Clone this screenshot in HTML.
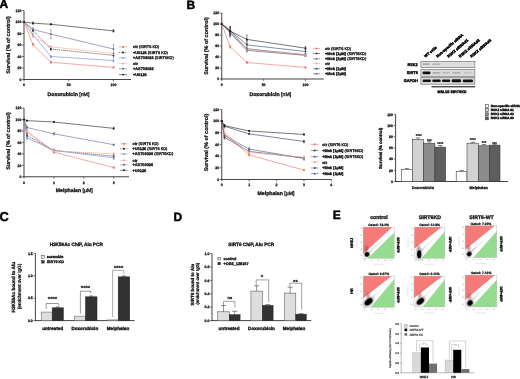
<!DOCTYPE html>
<html><head><meta charset="utf-8"><style>
html,body{margin:0;padding:0;background:#fff;}
svg{display:block;will-change:transform;filter:blur(0.3px);}
text{font-family:"Liberation Sans",sans-serif;}
</style></head><body>
<svg width="520" height="379" viewBox="0 0 520 379" text-rendering="geometricPrecision">
<rect width="520" height="379" fill="#fff"/>
<text x="-0.40" y="8.30" font-size="12.0" text-anchor="start" fill="#000" stroke="#000" stroke-width="0.45" font-weight="bold" >A</text>
<text x="186.40" y="8.50" font-size="12.0" text-anchor="start" fill="#000" stroke="#000" stroke-width="0.45" font-weight="bold" >B</text>
<text x="-0.40" y="220.60" font-size="12.8" text-anchor="start" fill="#000" stroke="#000" stroke-width="0.45" font-weight="bold" >C</text>
<text x="173.60" y="221.10" font-size="12.0" text-anchor="start" fill="#000" stroke="#000" stroke-width="0.45" font-weight="bold" >D</text>
<text x="332.70" y="218.60" font-size="12.0" text-anchor="start" fill="#000" stroke="#000" stroke-width="0.45" font-weight="bold" >E</text>
<line x1="24.00" y1="80.00" x2="24.00" y2="10.50" stroke="#3a3a3a" stroke-width="0.95" />
<line x1="23.50" y1="79.50" x2="131.00" y2="79.50" stroke="#3a3a3a" stroke-width="0.95" />
<line x1="22.10" y1="79.50" x2="24.00" y2="79.50" stroke="#3a3a3a" stroke-width="0.7" />
<text x="21.40" y="80.75" font-size="3.5" text-anchor="end" fill="#151515" stroke="#151515" stroke-width="0.28" font-weight="bold" >0</text>
<line x1="22.10" y1="68.00" x2="24.00" y2="68.00" stroke="#3a3a3a" stroke-width="0.7" />
<text x="21.40" y="69.25" font-size="3.5" text-anchor="end" fill="#151515" stroke="#151515" stroke-width="0.28" font-weight="bold" >20</text>
<line x1="22.10" y1="56.50" x2="24.00" y2="56.50" stroke="#3a3a3a" stroke-width="0.7" />
<text x="21.40" y="57.75" font-size="3.5" text-anchor="end" fill="#151515" stroke="#151515" stroke-width="0.28" font-weight="bold" >40</text>
<line x1="22.10" y1="45.00" x2="24.00" y2="45.00" stroke="#3a3a3a" stroke-width="0.7" />
<text x="21.40" y="46.25" font-size="3.5" text-anchor="end" fill="#151515" stroke="#151515" stroke-width="0.28" font-weight="bold" >60</text>
<line x1="22.10" y1="33.50" x2="24.00" y2="33.50" stroke="#3a3a3a" stroke-width="0.7" />
<text x="21.40" y="34.75" font-size="3.5" text-anchor="end" fill="#151515" stroke="#151515" stroke-width="0.28" font-weight="bold" >80</text>
<line x1="22.10" y1="22.00" x2="24.00" y2="22.00" stroke="#3a3a3a" stroke-width="0.7" />
<text x="21.40" y="23.25" font-size="3.5" text-anchor="end" fill="#151515" stroke="#151515" stroke-width="0.28" font-weight="bold" >100</text>
<line x1="22.10" y1="10.50" x2="24.00" y2="10.50" stroke="#3a3a3a" stroke-width="0.7" />
<text x="21.40" y="11.75" font-size="3.5" text-anchor="end" fill="#151515" stroke="#151515" stroke-width="0.28" font-weight="bold" >120</text>
<line x1="24.00" y1="79.50" x2="24.00" y2="81.40" stroke="#3a3a3a" stroke-width="0.7" />
<text x="24.00" y="86.40" font-size="3.5" text-anchor="middle" fill="#151515" stroke="#151515" stroke-width="0.28" font-weight="bold" >0</text>
<line x1="68.75" y1="79.50" x2="68.75" y2="81.40" stroke="#3a3a3a" stroke-width="0.7" />
<text x="68.75" y="86.40" font-size="3.5" text-anchor="middle" fill="#151515" stroke="#151515" stroke-width="0.28" font-weight="bold" >50</text>
<line x1="113.50" y1="79.50" x2="113.50" y2="81.40" stroke="#3a3a3a" stroke-width="0.7" />
<text x="113.50" y="86.40" font-size="3.5" text-anchor="middle" fill="#151515" stroke="#151515" stroke-width="0.28" font-weight="bold" >100</text>
<text x="9.90" y="45.00" font-size="5.45" text-anchor="middle" fill="#111" stroke="#111" stroke-width="0.22" font-weight="bold" transform="rotate(-90 9.9 45.0)" >Survival (% of control)</text>
<text x="68.50" y="96.30" font-size="5.2" text-anchor="middle" fill="#111" stroke="#111" stroke-width="0.3" ><tspan font-weight="bold">Doxorubicin </tspan>[nM]</text>
<path d="M24.00,22.00 L32.95,44.43 L50.85,62.25 L113.50,67.42" fill="none" stroke="#e8706c" stroke-width="0.6"/>
<rect x="23.10" y="21.10" width="1.80" height="1.80" fill="#e8706c" />
<line x1="32.95" y1="43.28" x2="32.95" y2="45.58" stroke="#e8706c" stroke-width="0.5" />
<line x1="32.15" y1="43.28" x2="33.75" y2="43.28" stroke="#e8706c" stroke-width="0.5" />
<line x1="32.15" y1="45.58" x2="33.75" y2="45.58" stroke="#e8706c" stroke-width="0.5" />
<rect x="32.05" y="43.53" width="1.80" height="1.80" fill="#e8706c" />
<line x1="50.85" y1="61.10" x2="50.85" y2="63.40" stroke="#e8706c" stroke-width="0.5" />
<line x1="50.05" y1="61.10" x2="51.65" y2="61.10" stroke="#e8706c" stroke-width="0.5" />
<line x1="50.05" y1="63.40" x2="51.65" y2="63.40" stroke="#e8706c" stroke-width="0.5" />
<rect x="49.95" y="61.35" width="1.80" height="1.80" fill="#e8706c" />
<line x1="113.50" y1="66.85" x2="113.50" y2="68.00" stroke="#e8706c" stroke-width="0.5" />
<line x1="112.70" y1="66.85" x2="114.30" y2="66.85" stroke="#e8706c" stroke-width="0.5" />
<line x1="112.70" y1="68.00" x2="114.30" y2="68.00" stroke="#e8706c" stroke-width="0.5" />
<rect x="112.60" y="66.52" width="1.80" height="1.80" fill="#e8706c" />
<path d="M24.00,22.00 L32.95,30.34 L50.85,49.03 L113.50,55.35" fill="none" stroke="#1a1a1a" stroke-width="0.6" stroke-dasharray="1.2,0.8"/>
<circle cx="24.00" cy="22.00" r="0.95" fill="#1a1a1a"/>
<line x1="32.95" y1="29.19" x2="32.95" y2="31.49" stroke="#1a1a1a" stroke-width="0.5" />
<line x1="32.15" y1="29.19" x2="33.75" y2="29.19" stroke="#1a1a1a" stroke-width="0.5" />
<line x1="32.15" y1="31.49" x2="33.75" y2="31.49" stroke="#1a1a1a" stroke-width="0.5" />
<circle cx="32.95" cy="30.34" r="0.95" fill="#1a1a1a"/>
<line x1="50.85" y1="47.88" x2="50.85" y2="50.18" stroke="#1a1a1a" stroke-width="0.5" />
<line x1="50.05" y1="47.88" x2="51.65" y2="47.88" stroke="#1a1a1a" stroke-width="0.5" />
<line x1="50.05" y1="50.18" x2="51.65" y2="50.18" stroke="#1a1a1a" stroke-width="0.5" />
<circle cx="50.85" cy="49.03" r="0.95" fill="#1a1a1a"/>
<line x1="113.50" y1="53.62" x2="113.50" y2="57.08" stroke="#1a1a1a" stroke-width="0.5" />
<line x1="112.70" y1="53.62" x2="114.30" y2="53.62" stroke="#1a1a1a" stroke-width="0.5" />
<line x1="112.70" y1="57.08" x2="114.30" y2="57.08" stroke="#1a1a1a" stroke-width="0.5" />
<circle cx="113.50" cy="55.35" r="0.95" fill="#1a1a1a"/>
<path d="M24.00,22.00 L32.95,34.65 L50.85,56.50 L113.50,60.53" fill="none" stroke="#7084d4" stroke-width="0.6"/>
<path d="M22.90,22.80 L25.10,22.80 L24.00,20.90 Z" fill="#7084d4"/>
<line x1="32.95" y1="32.93" x2="32.95" y2="36.38" stroke="#7084d4" stroke-width="0.5" />
<line x1="32.15" y1="32.93" x2="33.75" y2="32.93" stroke="#7084d4" stroke-width="0.5" />
<line x1="32.15" y1="36.38" x2="33.75" y2="36.38" stroke="#7084d4" stroke-width="0.5" />
<path d="M31.85,35.45 L34.05,35.45 L32.95,33.55 Z" fill="#7084d4"/>
<line x1="50.85" y1="55.35" x2="50.85" y2="57.65" stroke="#7084d4" stroke-width="0.5" />
<line x1="50.05" y1="55.35" x2="51.65" y2="55.35" stroke="#7084d4" stroke-width="0.5" />
<line x1="50.05" y1="57.65" x2="51.65" y2="57.65" stroke="#7084d4" stroke-width="0.5" />
<path d="M49.75,57.30 L51.95,57.30 L50.85,55.40 Z" fill="#7084d4"/>
<line x1="113.50" y1="58.80" x2="113.50" y2="62.25" stroke="#7084d4" stroke-width="0.5" />
<line x1="112.70" y1="58.80" x2="114.30" y2="58.80" stroke="#7084d4" stroke-width="0.5" />
<line x1="112.70" y1="62.25" x2="114.30" y2="62.25" stroke="#7084d4" stroke-width="0.5" />
<path d="M112.40,61.33 L114.60,61.33 L113.50,59.43 Z" fill="#7084d4"/>
<path d="M24.00,22.00 L32.95,36.38 L50.85,46.73 L113.50,53.62" fill="none" stroke="#f2ab98" stroke-width="0.6"/>
<rect x="23.10" y="21.10" width="1.80" height="1.80" fill="#f2ab98" />
<line x1="32.95" y1="35.23" x2="32.95" y2="37.52" stroke="#f2ab98" stroke-width="0.5" />
<line x1="32.15" y1="35.23" x2="33.75" y2="35.23" stroke="#f2ab98" stroke-width="0.5" />
<line x1="32.15" y1="37.52" x2="33.75" y2="37.52" stroke="#f2ab98" stroke-width="0.5" />
<rect x="32.05" y="35.48" width="1.80" height="1.80" fill="#f2ab98" />
<line x1="50.85" y1="45.58" x2="50.85" y2="47.88" stroke="#f2ab98" stroke-width="0.5" />
<line x1="50.05" y1="45.58" x2="51.65" y2="45.58" stroke="#f2ab98" stroke-width="0.5" />
<line x1="50.05" y1="47.88" x2="51.65" y2="47.88" stroke="#f2ab98" stroke-width="0.5" />
<rect x="49.95" y="45.83" width="1.80" height="1.80" fill="#f2ab98" />
<line x1="113.50" y1="52.48" x2="113.50" y2="54.77" stroke="#f2ab98" stroke-width="0.5" />
<line x1="112.70" y1="52.48" x2="114.30" y2="52.48" stroke="#f2ab98" stroke-width="0.5" />
<line x1="112.70" y1="54.77" x2="114.30" y2="54.77" stroke="#f2ab98" stroke-width="0.5" />
<rect x="112.60" y="52.73" width="1.80" height="1.80" fill="#f2ab98" />
<path d="M24.00,22.00 L32.95,29.48 L50.85,34.08 L113.50,49.03" fill="none" stroke="#626a88" stroke-width="0.6"/>
<circle cx="24.00" cy="22.00" r="0.95" fill="#626a88"/>
<line x1="32.95" y1="27.75" x2="32.95" y2="31.20" stroke="#626a88" stroke-width="0.5" />
<line x1="32.15" y1="27.75" x2="33.75" y2="27.75" stroke="#626a88" stroke-width="0.5" />
<line x1="32.15" y1="31.20" x2="33.75" y2="31.20" stroke="#626a88" stroke-width="0.5" />
<circle cx="32.95" cy="29.48" r="0.95" fill="#626a88"/>
<line x1="50.85" y1="29.48" x2="50.85" y2="38.68" stroke="#626a88" stroke-width="0.5" />
<line x1="50.05" y1="29.48" x2="51.65" y2="29.48" stroke="#626a88" stroke-width="0.5" />
<line x1="50.05" y1="38.68" x2="51.65" y2="38.68" stroke="#626a88" stroke-width="0.5" />
<circle cx="50.85" cy="34.08" r="0.95" fill="#626a88"/>
<line x1="113.50" y1="44.43" x2="113.50" y2="53.63" stroke="#626a88" stroke-width="0.5" />
<line x1="112.70" y1="44.43" x2="114.30" y2="44.43" stroke="#626a88" stroke-width="0.5" />
<line x1="112.70" y1="53.63" x2="114.30" y2="53.63" stroke="#626a88" stroke-width="0.5" />
<circle cx="113.50" cy="49.03" r="0.95" fill="#626a88"/>
<path d="M24.00,22.00 L32.95,23.15 L50.85,24.30 L113.50,30.91" fill="none" stroke="#1a1a1a" stroke-width="0.6"/>
<circle cx="24.00" cy="22.00" r="0.95" fill="#1a1a1a"/>
<line x1="32.95" y1="22.00" x2="32.95" y2="24.30" stroke="#1a1a1a" stroke-width="0.5" />
<line x1="32.15" y1="22.00" x2="33.75" y2="22.00" stroke="#1a1a1a" stroke-width="0.5" />
<line x1="32.15" y1="24.30" x2="33.75" y2="24.30" stroke="#1a1a1a" stroke-width="0.5" />
<circle cx="32.95" cy="23.15" r="0.95" fill="#1a1a1a"/>
<line x1="50.85" y1="23.73" x2="50.85" y2="24.88" stroke="#1a1a1a" stroke-width="0.5" />
<line x1="50.05" y1="23.73" x2="51.65" y2="23.73" stroke="#1a1a1a" stroke-width="0.5" />
<line x1="50.05" y1="24.88" x2="51.65" y2="24.88" stroke="#1a1a1a" stroke-width="0.5" />
<circle cx="50.85" cy="24.30" r="0.95" fill="#1a1a1a"/>
<line x1="113.50" y1="29.76" x2="113.50" y2="32.06" stroke="#1a1a1a" stroke-width="0.5" />
<line x1="112.70" y1="29.76" x2="114.30" y2="29.76" stroke="#1a1a1a" stroke-width="0.5" />
<line x1="112.70" y1="32.06" x2="114.30" y2="32.06" stroke="#1a1a1a" stroke-width="0.5" />
<circle cx="113.50" cy="30.91" r="0.95" fill="#1a1a1a"/>
<line x1="119" y1="46.90" x2="127" y2="46.90" stroke="#e8706c" stroke-width="0.55"/>
<rect x="122.10" y="46.00" width="1.80" height="1.80" fill="#e8706c" />
<text x="133.00" y="48.30" font-size="3.9" fill="#000" stroke="#000" stroke-width="0.26" ><tspan font-weight="bold">ctr </tspan>(SIRT6 KD)</text>
<line x1="119" y1="52.50" x2="127" y2="52.50" stroke="#1a1a1a" stroke-width="0.55" stroke-dasharray="1.2,0.8"/>
<circle cx="123.00" cy="52.50" r="0.95" fill="#1a1a1a"/>
<text x="133.00" y="53.90" font-size="3.9" fill="#000" stroke="#000" stroke-width="0.26" ><tspan font-weight="bold">+U0126 </tspan>(SIRT6 KD)</text>
<line x1="119" y1="57.80" x2="127" y2="57.80" stroke="#7084d4" stroke-width="0.55"/>
<path d="M121.90,58.60 L124.10,58.60 L123.00,56.70 Z" fill="#7084d4"/>
<text x="133.00" y="59.20" font-size="3.9" fill="#000" stroke="#000" stroke-width="0.26" ><tspan font-weight="bold">+AS703026 </tspan>(SIRT6KD)</text>
<line x1="119" y1="63.50" x2="127" y2="63.50" stroke="#f2ab98" stroke-width="0.55"/>
<rect x="122.10" y="62.60" width="1.80" height="1.80" fill="#f2ab98" />
<text x="133.00" y="64.90" font-size="3.9" text-anchor="start" fill="#000" stroke="#000" stroke-width="0.26" font-weight="bold" >ctr</text>
<line x1="119" y1="68.80" x2="127" y2="68.80" stroke="#626a88" stroke-width="0.55"/>
<circle cx="123.00" cy="68.80" r="0.95" fill="#626a88"/>
<text x="133.00" y="70.20" font-size="3.9" text-anchor="start" fill="#000" stroke="#000" stroke-width="0.26" font-weight="bold" >+AS703026</text>
<line x1="119" y1="74.60" x2="127" y2="74.60" stroke="#1a1a1a" stroke-width="0.55"/>
<circle cx="123.00" cy="74.60" r="0.95" fill="#1a1a1a"/>
<text x="133.00" y="76.00" font-size="3.9" text-anchor="start" fill="#000" stroke="#000" stroke-width="0.26" font-weight="bold" >+U0126</text>
<line x1="24.00" y1="177.25" x2="24.00" y2="108.05" stroke="#3a3a3a" stroke-width="0.95" />
<line x1="23.50" y1="176.75" x2="129.00" y2="176.75" stroke="#3a3a3a" stroke-width="0.95" />
<line x1="22.10" y1="176.75" x2="24.00" y2="176.75" stroke="#3a3a3a" stroke-width="0.7" />
<text x="21.40" y="178.00" font-size="3.5" text-anchor="end" fill="#151515" stroke="#151515" stroke-width="0.28" font-weight="bold" >0</text>
<line x1="22.10" y1="165.30" x2="24.00" y2="165.30" stroke="#3a3a3a" stroke-width="0.7" />
<text x="21.40" y="166.55" font-size="3.5" text-anchor="end" fill="#151515" stroke="#151515" stroke-width="0.28" font-weight="bold" >20</text>
<line x1="22.10" y1="153.85" x2="24.00" y2="153.85" stroke="#3a3a3a" stroke-width="0.7" />
<text x="21.40" y="155.10" font-size="3.5" text-anchor="end" fill="#151515" stroke="#151515" stroke-width="0.28" font-weight="bold" >40</text>
<line x1="22.10" y1="142.40" x2="24.00" y2="142.40" stroke="#3a3a3a" stroke-width="0.7" />
<text x="21.40" y="143.65" font-size="3.5" text-anchor="end" fill="#151515" stroke="#151515" stroke-width="0.28" font-weight="bold" >60</text>
<line x1="22.10" y1="130.95" x2="24.00" y2="130.95" stroke="#3a3a3a" stroke-width="0.7" />
<text x="21.40" y="132.20" font-size="3.5" text-anchor="end" fill="#151515" stroke="#151515" stroke-width="0.28" font-weight="bold" >80</text>
<line x1="22.10" y1="119.50" x2="24.00" y2="119.50" stroke="#3a3a3a" stroke-width="0.7" />
<text x="21.40" y="120.75" font-size="3.5" text-anchor="end" fill="#151515" stroke="#151515" stroke-width="0.28" font-weight="bold" >100</text>
<line x1="22.10" y1="108.05" x2="24.00" y2="108.05" stroke="#3a3a3a" stroke-width="0.7" />
<text x="21.40" y="109.30" font-size="3.5" text-anchor="end" fill="#151515" stroke="#151515" stroke-width="0.28" font-weight="bold" >120</text>
<line x1="24.00" y1="176.75" x2="24.00" y2="178.65" stroke="#3a3a3a" stroke-width="0.7" />
<text x="24.00" y="183.65" font-size="3.5" text-anchor="middle" fill="#151515" stroke="#151515" stroke-width="0.28" font-weight="bold" >0</text>
<line x1="53.90" y1="176.75" x2="53.90" y2="178.65" stroke="#3a3a3a" stroke-width="0.7" />
<text x="53.90" y="183.65" font-size="3.5" text-anchor="middle" fill="#151515" stroke="#151515" stroke-width="0.28" font-weight="bold" >1</text>
<line x1="83.80" y1="176.75" x2="83.80" y2="178.65" stroke="#3a3a3a" stroke-width="0.7" />
<text x="83.80" y="183.65" font-size="3.5" text-anchor="middle" fill="#151515" stroke="#151515" stroke-width="0.28" font-weight="bold" >2</text>
<line x1="113.70" y1="176.75" x2="113.70" y2="178.65" stroke="#3a3a3a" stroke-width="0.7" />
<text x="113.70" y="183.65" font-size="3.5" text-anchor="middle" fill="#151515" stroke="#151515" stroke-width="0.28" font-weight="bold" >3</text>
<text x="9.90" y="141.00" font-size="5.45" text-anchor="middle" fill="#111" stroke="#111" stroke-width="0.22" font-weight="bold" transform="rotate(-90 9.9 141.0)" >Survival (% of control)</text>
<text x="74.30" y="192.40" font-size="5.2" text-anchor="middle" fill="#111" stroke="#111" stroke-width="0.3" ><tspan font-weight="bold">Melphalan </tspan>[µM]</text>
<path d="M24.00,119.50 L26.99,132.09 L53.90,152.13 L113.70,167.59" fill="none" stroke="#e8706c" stroke-width="0.6"/>
<rect x="23.10" y="118.60" width="1.80" height="1.80" fill="#e8706c" />
<line x1="26.99" y1="130.38" x2="26.99" y2="133.81" stroke="#e8706c" stroke-width="0.5" />
<line x1="26.19" y1="130.38" x2="27.79" y2="130.38" stroke="#e8706c" stroke-width="0.5" />
<line x1="26.19" y1="133.81" x2="27.79" y2="133.81" stroke="#e8706c" stroke-width="0.5" />
<rect x="26.09" y="131.19" width="1.80" height="1.80" fill="#e8706c" />
<line x1="53.90" y1="150.99" x2="53.90" y2="153.28" stroke="#e8706c" stroke-width="0.5" />
<line x1="53.10" y1="150.99" x2="54.70" y2="150.99" stroke="#e8706c" stroke-width="0.5" />
<line x1="53.10" y1="153.28" x2="54.70" y2="153.28" stroke="#e8706c" stroke-width="0.5" />
<rect x="53.00" y="151.23" width="1.80" height="1.80" fill="#e8706c" />
<line x1="113.70" y1="167.02" x2="113.70" y2="168.16" stroke="#e8706c" stroke-width="0.5" />
<line x1="112.90" y1="167.02" x2="114.50" y2="167.02" stroke="#e8706c" stroke-width="0.5" />
<line x1="112.90" y1="168.16" x2="114.50" y2="168.16" stroke="#e8706c" stroke-width="0.5" />
<rect x="112.80" y="166.69" width="1.80" height="1.80" fill="#e8706c" />
<path d="M24.00,119.50 L26.99,135.53 L53.90,150.41 L113.70,156.14" fill="none" stroke="#1a1a1a" stroke-width="0.6" stroke-dasharray="1.2,0.8"/>
<circle cx="24.00" cy="119.50" r="0.95" fill="#1a1a1a"/>
<line x1="26.99" y1="133.81" x2="26.99" y2="137.25" stroke="#1a1a1a" stroke-width="0.5" />
<line x1="26.19" y1="133.81" x2="27.79" y2="133.81" stroke="#1a1a1a" stroke-width="0.5" />
<line x1="26.19" y1="137.25" x2="27.79" y2="137.25" stroke="#1a1a1a" stroke-width="0.5" />
<circle cx="26.99" cy="135.53" r="0.95" fill="#1a1a1a"/>
<line x1="53.90" y1="149.27" x2="53.90" y2="151.56" stroke="#1a1a1a" stroke-width="0.5" />
<line x1="53.10" y1="149.27" x2="54.70" y2="149.27" stroke="#1a1a1a" stroke-width="0.5" />
<line x1="53.10" y1="151.56" x2="54.70" y2="151.56" stroke="#1a1a1a" stroke-width="0.5" />
<circle cx="53.90" cy="150.41" r="0.95" fill="#1a1a1a"/>
<line x1="113.70" y1="154.42" x2="113.70" y2="157.86" stroke="#1a1a1a" stroke-width="0.5" />
<line x1="112.90" y1="154.42" x2="114.50" y2="154.42" stroke="#1a1a1a" stroke-width="0.5" />
<line x1="112.90" y1="157.86" x2="114.50" y2="157.86" stroke="#1a1a1a" stroke-width="0.5" />
<circle cx="113.70" cy="156.14" r="0.95" fill="#1a1a1a"/>
<path d="M24.00,119.50 L26.99,137.82 L53.90,150.41 L113.70,157.86" fill="none" stroke="#7084d4" stroke-width="0.6"/>
<path d="M22.90,120.30 L25.10,120.30 L24.00,118.40 Z" fill="#7084d4"/>
<line x1="26.99" y1="136.10" x2="26.99" y2="139.54" stroke="#7084d4" stroke-width="0.5" />
<line x1="26.19" y1="136.10" x2="27.79" y2="136.10" stroke="#7084d4" stroke-width="0.5" />
<line x1="26.19" y1="139.54" x2="27.79" y2="139.54" stroke="#7084d4" stroke-width="0.5" />
<path d="M25.89,138.62 L28.09,138.62 L26.99,136.72 Z" fill="#7084d4"/>
<line x1="53.90" y1="149.27" x2="53.90" y2="151.56" stroke="#7084d4" stroke-width="0.5" />
<line x1="53.10" y1="149.27" x2="54.70" y2="149.27" stroke="#7084d4" stroke-width="0.5" />
<line x1="53.10" y1="151.56" x2="54.70" y2="151.56" stroke="#7084d4" stroke-width="0.5" />
<path d="M52.80,151.22 L55.00,151.22 L53.90,149.31 Z" fill="#7084d4"/>
<line x1="113.70" y1="156.14" x2="113.70" y2="159.57" stroke="#7084d4" stroke-width="0.5" />
<line x1="112.90" y1="156.14" x2="114.50" y2="156.14" stroke="#7084d4" stroke-width="0.5" />
<line x1="112.90" y1="159.57" x2="114.50" y2="159.57" stroke="#7084d4" stroke-width="0.5" />
<path d="M112.60,158.66 L114.80,158.66 L113.70,156.76 Z" fill="#7084d4"/>
<path d="M24.00,119.50 L26.99,130.95 L53.90,150.99 L113.70,153.85" fill="none" stroke="#f2ab98" stroke-width="0.6"/>
<rect x="23.10" y="118.60" width="1.80" height="1.80" fill="#f2ab98" />
<line x1="26.99" y1="129.23" x2="26.99" y2="132.67" stroke="#f2ab98" stroke-width="0.5" />
<line x1="26.19" y1="129.23" x2="27.79" y2="129.23" stroke="#f2ab98" stroke-width="0.5" />
<line x1="26.19" y1="132.67" x2="27.79" y2="132.67" stroke="#f2ab98" stroke-width="0.5" />
<rect x="26.09" y="130.05" width="1.80" height="1.80" fill="#f2ab98" />
<line x1="53.90" y1="149.84" x2="53.90" y2="152.13" stroke="#f2ab98" stroke-width="0.5" />
<line x1="53.10" y1="149.84" x2="54.70" y2="149.84" stroke="#f2ab98" stroke-width="0.5" />
<line x1="53.10" y1="152.13" x2="54.70" y2="152.13" stroke="#f2ab98" stroke-width="0.5" />
<rect x="53.00" y="150.09" width="1.80" height="1.80" fill="#f2ab98" />
<line x1="113.70" y1="152.70" x2="113.70" y2="155.00" stroke="#f2ab98" stroke-width="0.5" />
<line x1="112.90" y1="152.70" x2="114.50" y2="152.70" stroke="#f2ab98" stroke-width="0.5" />
<line x1="112.90" y1="155.00" x2="114.50" y2="155.00" stroke="#f2ab98" stroke-width="0.5" />
<rect x="112.80" y="152.95" width="1.80" height="1.80" fill="#f2ab98" />
<path d="M24.00,119.50 L26.99,127.52 L53.90,133.81 L113.70,144.69" fill="none" stroke="#626a88" stroke-width="0.6"/>
<circle cx="24.00" cy="119.50" r="0.95" fill="#626a88"/>
<line x1="26.99" y1="125.80" x2="26.99" y2="129.23" stroke="#626a88" stroke-width="0.5" />
<line x1="26.19" y1="125.80" x2="27.79" y2="125.80" stroke="#626a88" stroke-width="0.5" />
<line x1="26.19" y1="129.23" x2="27.79" y2="129.23" stroke="#626a88" stroke-width="0.5" />
<circle cx="26.99" cy="127.52" r="0.95" fill="#626a88"/>
<line x1="53.90" y1="132.67" x2="53.90" y2="134.96" stroke="#626a88" stroke-width="0.5" />
<line x1="53.10" y1="132.67" x2="54.70" y2="132.67" stroke="#626a88" stroke-width="0.5" />
<line x1="53.10" y1="134.96" x2="54.70" y2="134.96" stroke="#626a88" stroke-width="0.5" />
<circle cx="53.90" cy="133.81" r="0.95" fill="#626a88"/>
<line x1="113.70" y1="144.12" x2="113.70" y2="145.26" stroke="#626a88" stroke-width="0.5" />
<line x1="112.90" y1="144.12" x2="114.50" y2="144.12" stroke="#626a88" stroke-width="0.5" />
<line x1="112.90" y1="145.26" x2="114.50" y2="145.26" stroke="#626a88" stroke-width="0.5" />
<circle cx="113.70" cy="144.69" r="0.95" fill="#626a88"/>
<path d="M24.00,119.50 L26.99,120.64 L53.90,122.02 L113.70,128.37" fill="none" stroke="#1a1a1a" stroke-width="0.6"/>
<circle cx="24.00" cy="119.50" r="0.95" fill="#1a1a1a"/>
<line x1="26.99" y1="120.07" x2="26.99" y2="121.22" stroke="#1a1a1a" stroke-width="0.5" />
<line x1="26.19" y1="120.07" x2="27.79" y2="120.07" stroke="#1a1a1a" stroke-width="0.5" />
<line x1="26.19" y1="121.22" x2="27.79" y2="121.22" stroke="#1a1a1a" stroke-width="0.5" />
<circle cx="26.99" cy="120.64" r="0.95" fill="#1a1a1a"/>
<line x1="53.90" y1="121.45" x2="53.90" y2="122.59" stroke="#1a1a1a" stroke-width="0.5" />
<line x1="53.10" y1="121.45" x2="54.70" y2="121.45" stroke="#1a1a1a" stroke-width="0.5" />
<line x1="53.10" y1="122.59" x2="54.70" y2="122.59" stroke="#1a1a1a" stroke-width="0.5" />
<circle cx="53.90" cy="122.02" r="0.95" fill="#1a1a1a"/>
<line x1="113.70" y1="127.23" x2="113.70" y2="129.52" stroke="#1a1a1a" stroke-width="0.5" />
<line x1="112.90" y1="127.23" x2="114.50" y2="127.23" stroke="#1a1a1a" stroke-width="0.5" />
<line x1="112.90" y1="129.52" x2="114.50" y2="129.52" stroke="#1a1a1a" stroke-width="0.5" />
<circle cx="113.70" cy="128.37" r="0.95" fill="#1a1a1a"/>
<line x1="120.2" y1="143.80" x2="127.5" y2="143.80" stroke="#e8706c" stroke-width="0.55"/>
<rect x="122.95" y="142.90" width="1.80" height="1.80" fill="#e8706c" />
<text x="132.50" y="145.20" font-size="3.9" fill="#000" stroke="#000" stroke-width="0.26" ><tspan font-weight="bold">ctr </tspan>(SIRT6 KD)</text>
<line x1="120.2" y1="148.80" x2="127.5" y2="148.80" stroke="#1a1a1a" stroke-width="0.55" stroke-dasharray="1.2,0.8"/>
<circle cx="123.85" cy="148.80" r="0.95" fill="#1a1a1a"/>
<text x="132.50" y="150.20" font-size="3.9" fill="#000" stroke="#000" stroke-width="0.26" ><tspan font-weight="bold">+U0126 </tspan>(SIRT6 KD)</text>
<line x1="120.2" y1="153.90" x2="127.5" y2="153.90" stroke="#7084d4" stroke-width="0.55"/>
<path d="M122.75,154.70 L124.95,154.70 L123.85,152.80 Z" fill="#7084d4"/>
<text x="132.50" y="155.30" font-size="3.9" fill="#000" stroke="#000" stroke-width="0.26" ><tspan font-weight="bold">+AS703026 </tspan>(SIRT6KD)</text>
<line x1="120.2" y1="160.40" x2="127.5" y2="160.40" stroke="#f2ab98" stroke-width="0.55"/>
<rect x="122.95" y="159.50" width="1.80" height="1.80" fill="#f2ab98" />
<text x="132.50" y="161.80" font-size="3.9" text-anchor="start" fill="#000" stroke="#000" stroke-width="0.26" font-weight="bold" >ctr</text>
<line x1="120.2" y1="164.80" x2="127.5" y2="164.80" stroke="#626a88" stroke-width="0.55"/>
<circle cx="123.85" cy="164.80" r="0.95" fill="#626a88"/>
<text x="132.50" y="166.20" font-size="3.9" text-anchor="start" fill="#000" stroke="#000" stroke-width="0.26" font-weight="bold" >+AS703026</text>
<line x1="120.2" y1="170.30" x2="127.5" y2="170.30" stroke="#1a1a1a" stroke-width="0.55"/>
<circle cx="123.85" cy="170.30" r="0.95" fill="#1a1a1a"/>
<text x="132.50" y="171.70" font-size="3.9" text-anchor="start" fill="#000" stroke="#000" stroke-width="0.26" font-weight="bold" >+U0126</text>
<line x1="221.75" y1="79.50" x2="221.75" y2="13.00" stroke="#3a3a3a" stroke-width="0.95" />
<line x1="221.25" y1="79.00" x2="323.75" y2="79.00" stroke="#3a3a3a" stroke-width="0.95" />
<line x1="219.85" y1="79.00" x2="221.75" y2="79.00" stroke="#3a3a3a" stroke-width="0.7" />
<text x="219.15" y="80.25" font-size="3.5" text-anchor="end" fill="#151515" stroke="#151515" stroke-width="0.28" font-weight="bold" >0</text>
<line x1="219.85" y1="68.00" x2="221.75" y2="68.00" stroke="#3a3a3a" stroke-width="0.7" />
<text x="219.15" y="69.25" font-size="3.5" text-anchor="end" fill="#151515" stroke="#151515" stroke-width="0.28" font-weight="bold" >20</text>
<line x1="219.85" y1="57.00" x2="221.75" y2="57.00" stroke="#3a3a3a" stroke-width="0.7" />
<text x="219.15" y="58.25" font-size="3.5" text-anchor="end" fill="#151515" stroke="#151515" stroke-width="0.28" font-weight="bold" >40</text>
<line x1="219.85" y1="46.00" x2="221.75" y2="46.00" stroke="#3a3a3a" stroke-width="0.7" />
<text x="219.15" y="47.25" font-size="3.5" text-anchor="end" fill="#151515" stroke="#151515" stroke-width="0.28" font-weight="bold" >60</text>
<line x1="219.85" y1="35.00" x2="221.75" y2="35.00" stroke="#3a3a3a" stroke-width="0.7" />
<text x="219.15" y="36.25" font-size="3.5" text-anchor="end" fill="#151515" stroke="#151515" stroke-width="0.28" font-weight="bold" >80</text>
<line x1="219.85" y1="24.00" x2="221.75" y2="24.00" stroke="#3a3a3a" stroke-width="0.7" />
<text x="219.15" y="25.25" font-size="3.5" text-anchor="end" fill="#151515" stroke="#151515" stroke-width="0.28" font-weight="bold" >100</text>
<line x1="219.85" y1="13.00" x2="221.75" y2="13.00" stroke="#3a3a3a" stroke-width="0.7" />
<text x="219.15" y="14.25" font-size="3.5" text-anchor="end" fill="#151515" stroke="#151515" stroke-width="0.28" font-weight="bold" >120</text>
<line x1="221.75" y1="79.00" x2="221.75" y2="80.90" stroke="#3a3a3a" stroke-width="0.7" />
<text x="221.75" y="85.90" font-size="3.5" text-anchor="middle" fill="#151515" stroke="#151515" stroke-width="0.28" font-weight="bold" >0</text>
<line x1="263.62" y1="79.00" x2="263.62" y2="80.90" stroke="#3a3a3a" stroke-width="0.7" />
<text x="263.62" y="85.90" font-size="3.5" text-anchor="middle" fill="#151515" stroke="#151515" stroke-width="0.28" font-weight="bold" >50</text>
<line x1="305.50" y1="79.00" x2="305.50" y2="80.90" stroke="#3a3a3a" stroke-width="0.7" />
<text x="305.50" y="85.90" font-size="3.5" text-anchor="middle" fill="#151515" stroke="#151515" stroke-width="0.28" font-weight="bold" >100</text>
<text x="208.10" y="46.00" font-size="5.45" text-anchor="middle" fill="#111" stroke="#111" stroke-width="0.22" font-weight="bold" transform="rotate(-90 208.1 46.0)" >Survival (% of control)</text>
<text x="270.30" y="96.20" font-size="5.2" text-anchor="middle" fill="#111" stroke="#111" stroke-width="0.3" ><tspan font-weight="bold">Doxorubicin </tspan>[nM]</text>
<path d="M221.75,24.00 L230.12,46.82 L246.88,62.50 L305.50,67.45" fill="none" stroke="#e8706c" stroke-width="0.6"/>
<rect x="220.85" y="23.10" width="1.80" height="1.80" fill="#e8706c" />
<line x1="230.12" y1="45.72" x2="230.12" y2="47.92" stroke="#e8706c" stroke-width="0.5" />
<line x1="229.32" y1="45.72" x2="230.93" y2="45.72" stroke="#e8706c" stroke-width="0.5" />
<line x1="229.32" y1="47.92" x2="230.93" y2="47.92" stroke="#e8706c" stroke-width="0.5" />
<rect x="229.22" y="45.92" width="1.80" height="1.80" fill="#e8706c" />
<line x1="246.88" y1="61.40" x2="246.88" y2="63.60" stroke="#e8706c" stroke-width="0.5" />
<line x1="246.07" y1="61.40" x2="247.68" y2="61.40" stroke="#e8706c" stroke-width="0.5" />
<line x1="246.07" y1="63.60" x2="247.68" y2="63.60" stroke="#e8706c" stroke-width="0.5" />
<rect x="245.97" y="61.60" width="1.80" height="1.80" fill="#e8706c" />
<line x1="305.50" y1="66.90" x2="305.50" y2="68.00" stroke="#e8706c" stroke-width="0.5" />
<line x1="304.70" y1="66.90" x2="306.30" y2="66.90" stroke="#e8706c" stroke-width="0.5" />
<line x1="304.70" y1="68.00" x2="306.30" y2="68.00" stroke="#e8706c" stroke-width="0.5" />
<rect x="304.60" y="66.55" width="1.80" height="1.80" fill="#e8706c" />
<path d="M221.75,24.00 L230.12,31.70 L246.88,48.75 L305.50,54.80" fill="none" stroke="#3a3a3a" stroke-width="0.6"/>
<circle cx="221.75" cy="24.00" r="0.95" fill="#3a3a3a"/>
<line x1="230.12" y1="27.30" x2="230.12" y2="36.10" stroke="#3a3a3a" stroke-width="0.5" />
<line x1="229.32" y1="27.30" x2="230.93" y2="27.30" stroke="#3a3a3a" stroke-width="0.5" />
<line x1="229.32" y1="36.10" x2="230.93" y2="36.10" stroke="#3a3a3a" stroke-width="0.5" />
<circle cx="230.12" cy="31.70" r="0.95" fill="#3a3a3a"/>
<line x1="246.88" y1="47.10" x2="246.88" y2="50.40" stroke="#3a3a3a" stroke-width="0.5" />
<line x1="246.07" y1="47.10" x2="247.68" y2="47.10" stroke="#3a3a3a" stroke-width="0.5" />
<line x1="246.07" y1="50.40" x2="247.68" y2="50.40" stroke="#3a3a3a" stroke-width="0.5" />
<circle cx="246.88" cy="48.75" r="0.95" fill="#3a3a3a"/>
<line x1="305.50" y1="53.70" x2="305.50" y2="55.90" stroke="#3a3a3a" stroke-width="0.5" />
<line x1="304.70" y1="53.70" x2="306.30" y2="53.70" stroke="#3a3a3a" stroke-width="0.5" />
<line x1="304.70" y1="55.90" x2="306.30" y2="55.90" stroke="#3a3a3a" stroke-width="0.5" />
<circle cx="305.50" cy="54.80" r="0.95" fill="#3a3a3a"/>
<path d="M221.75,24.00 L230.12,32.80 L246.88,50.40 L305.50,55.35" fill="none" stroke="#3d4a7a" stroke-width="0.6"/>
<path d="M220.65,24.80 L222.85,24.80 L221.75,22.90 Z" fill="#3d4a7a"/>
<line x1="230.12" y1="28.40" x2="230.12" y2="37.20" stroke="#3d4a7a" stroke-width="0.5" />
<line x1="229.32" y1="28.40" x2="230.93" y2="28.40" stroke="#3d4a7a" stroke-width="0.5" />
<line x1="229.32" y1="37.20" x2="230.93" y2="37.20" stroke="#3d4a7a" stroke-width="0.5" />
<path d="M229.03,33.60 L231.22,33.60 L230.12,31.70 Z" fill="#3d4a7a"/>
<line x1="246.88" y1="48.75" x2="246.88" y2="52.05" stroke="#3d4a7a" stroke-width="0.5" />
<line x1="246.07" y1="48.75" x2="247.68" y2="48.75" stroke="#3d4a7a" stroke-width="0.5" />
<line x1="246.07" y1="52.05" x2="247.68" y2="52.05" stroke="#3d4a7a" stroke-width="0.5" />
<path d="M245.78,51.20 L247.97,51.20 L246.88,49.30 Z" fill="#3d4a7a"/>
<line x1="305.50" y1="54.25" x2="305.50" y2="56.45" stroke="#3d4a7a" stroke-width="0.5" />
<line x1="304.70" y1="54.25" x2="306.30" y2="54.25" stroke="#3d4a7a" stroke-width="0.5" />
<line x1="304.70" y1="56.45" x2="306.30" y2="56.45" stroke="#3d4a7a" stroke-width="0.5" />
<path d="M304.40,56.15 L306.60,56.15 L305.50,54.25 Z" fill="#3d4a7a"/>
<path d="M221.75,24.00 L230.12,29.50 L246.88,49.30 L305.50,54.80" fill="none" stroke="#f2ab98" stroke-width="0.6"/>
<rect x="220.85" y="23.10" width="1.80" height="1.80" fill="#f2ab98" />
<line x1="230.12" y1="27.85" x2="230.12" y2="31.15" stroke="#f2ab98" stroke-width="0.5" />
<line x1="229.32" y1="27.85" x2="230.93" y2="27.85" stroke="#f2ab98" stroke-width="0.5" />
<line x1="229.32" y1="31.15" x2="230.93" y2="31.15" stroke="#f2ab98" stroke-width="0.5" />
<rect x="229.22" y="28.60" width="1.80" height="1.80" fill="#f2ab98" />
<line x1="246.88" y1="47.65" x2="246.88" y2="50.95" stroke="#f2ab98" stroke-width="0.5" />
<line x1="246.07" y1="47.65" x2="247.68" y2="47.65" stroke="#f2ab98" stroke-width="0.5" />
<line x1="246.07" y1="50.95" x2="247.68" y2="50.95" stroke="#f2ab98" stroke-width="0.5" />
<rect x="245.97" y="48.40" width="1.80" height="1.80" fill="#f2ab98" />
<line x1="305.50" y1="53.70" x2="305.50" y2="55.90" stroke="#f2ab98" stroke-width="0.5" />
<line x1="304.70" y1="53.70" x2="306.30" y2="53.70" stroke="#f2ab98" stroke-width="0.5" />
<line x1="304.70" y1="55.90" x2="306.30" y2="55.90" stroke="#f2ab98" stroke-width="0.5" />
<rect x="304.60" y="53.90" width="1.80" height="1.80" fill="#f2ab98" />
<path d="M221.75,24.00 L230.12,30.60 L246.88,44.90 L305.50,51.50" fill="none" stroke="#2c4a6a" stroke-width="0.6"/>
<circle cx="221.75" cy="24.00" r="0.95" fill="#2c4a6a"/>
<line x1="230.12" y1="26.20" x2="230.12" y2="35.00" stroke="#2c4a6a" stroke-width="0.5" />
<line x1="229.32" y1="26.20" x2="230.93" y2="26.20" stroke="#2c4a6a" stroke-width="0.5" />
<line x1="229.32" y1="35.00" x2="230.93" y2="35.00" stroke="#2c4a6a" stroke-width="0.5" />
<circle cx="230.12" cy="30.60" r="0.95" fill="#2c4a6a"/>
<line x1="246.88" y1="40.50" x2="246.88" y2="49.30" stroke="#2c4a6a" stroke-width="0.5" />
<line x1="246.07" y1="40.50" x2="247.68" y2="40.50" stroke="#2c4a6a" stroke-width="0.5" />
<line x1="246.07" y1="49.30" x2="247.68" y2="49.30" stroke="#2c4a6a" stroke-width="0.5" />
<circle cx="246.88" cy="44.90" r="0.95" fill="#2c4a6a"/>
<line x1="305.50" y1="49.30" x2="305.50" y2="53.70" stroke="#2c4a6a" stroke-width="0.5" />
<line x1="304.70" y1="49.30" x2="306.30" y2="49.30" stroke="#2c4a6a" stroke-width="0.5" />
<line x1="304.70" y1="53.70" x2="306.30" y2="53.70" stroke="#2c4a6a" stroke-width="0.5" />
<circle cx="305.50" cy="51.50" r="0.95" fill="#2c4a6a"/>
<path d="M221.75,24.00 L230.12,31.15 L246.88,39.40 L305.50,48.20" fill="none" stroke="#1a1a1a" stroke-width="0.6"/>
<circle cx="221.75" cy="24.00" r="0.95" fill="#1a1a1a"/>
<line x1="230.12" y1="26.75" x2="230.12" y2="35.55" stroke="#1a1a1a" stroke-width="0.5" />
<line x1="229.32" y1="26.75" x2="230.93" y2="26.75" stroke="#1a1a1a" stroke-width="0.5" />
<line x1="229.32" y1="35.55" x2="230.93" y2="35.55" stroke="#1a1a1a" stroke-width="0.5" />
<circle cx="230.12" cy="31.15" r="0.95" fill="#1a1a1a"/>
<line x1="246.88" y1="35.00" x2="246.88" y2="43.80" stroke="#1a1a1a" stroke-width="0.5" />
<line x1="246.07" y1="35.00" x2="247.68" y2="35.00" stroke="#1a1a1a" stroke-width="0.5" />
<line x1="246.07" y1="43.80" x2="247.68" y2="43.80" stroke="#1a1a1a" stroke-width="0.5" />
<circle cx="246.88" cy="39.40" r="0.95" fill="#1a1a1a"/>
<line x1="305.50" y1="46.55" x2="305.50" y2="49.85" stroke="#1a1a1a" stroke-width="0.5" />
<line x1="304.70" y1="46.55" x2="306.30" y2="46.55" stroke="#1a1a1a" stroke-width="0.5" />
<line x1="304.70" y1="49.85" x2="306.30" y2="49.85" stroke="#1a1a1a" stroke-width="0.5" />
<circle cx="305.50" cy="48.20" r="0.95" fill="#1a1a1a"/>
<line x1="313" y1="48.50" x2="320" y2="48.50" stroke="#e8706c" stroke-width="0.55"/>
<rect x="315.60" y="47.60" width="1.80" height="1.80" fill="#e8706c" />
<text x="325.00" y="49.90" font-size="3.9" fill="#000" stroke="#000" stroke-width="0.26" ><tspan font-weight="bold">ctr </tspan>(SIRT6 KD)</text>
<line x1="313" y1="53.50" x2="320" y2="53.50" stroke="#3a3a3a" stroke-width="0.55"/>
<circle cx="316.50" cy="53.50" r="0.95" fill="#3a3a3a"/>
<text x="325.00" y="54.90" font-size="3.9" fill="#000" stroke="#000" stroke-width="0.26" ><tspan font-weight="bold">+Mek [1µM] </tspan>(SIRT6KD)</text>
<line x1="313" y1="58.75" x2="320" y2="58.75" stroke="#3d4a7a" stroke-width="0.55"/>
<path d="M315.40,59.55 L317.60,59.55 L316.50,57.65 Z" fill="#3d4a7a"/>
<text x="325.00" y="60.15" font-size="3.9" fill="#000" stroke="#000" stroke-width="0.26" ><tspan font-weight="bold">+Mek [3µM] </tspan>(SIRT6KD)</text>
<line x1="313" y1="63.50" x2="320" y2="63.50" stroke="#f2ab98" stroke-width="0.55"/>
<rect x="315.60" y="62.60" width="1.80" height="1.80" fill="#f2ab98" />
<text x="325.00" y="64.90" font-size="3.9" text-anchor="start" fill="#000" stroke="#000" stroke-width="0.26" font-weight="bold" >ctr</text>
<line x1="313" y1="68.75" x2="320" y2="68.75" stroke="#2c4a6a" stroke-width="0.55"/>
<circle cx="316.50" cy="68.75" r="0.95" fill="#2c4a6a"/>
<text x="325.00" y="70.15" font-size="3.9" text-anchor="start" fill="#000" stroke="#000" stroke-width="0.26" font-weight="bold" >+Mek [1µM]</text>
<line x1="313" y1="73.75" x2="320" y2="73.75" stroke="#5a3c8c" stroke-width="0.55"/>
<path d="M315.40,74.55 L317.60,74.55 L316.50,72.65 Z" fill="#5a3c8c"/>
<text x="325.00" y="75.15" font-size="3.9" text-anchor="start" fill="#000" stroke="#000" stroke-width="0.26" font-weight="bold" >+Mek [3µM]</text>
<line x1="221.75" y1="180.00" x2="221.75" y2="109.30" stroke="#3a3a3a" stroke-width="0.95" />
<line x1="221.25" y1="179.50" x2="331.40" y2="179.50" stroke="#3a3a3a" stroke-width="0.95" />
<line x1="219.85" y1="179.50" x2="221.75" y2="179.50" stroke="#3a3a3a" stroke-width="0.7" />
<text x="219.15" y="180.75" font-size="3.5" text-anchor="end" fill="#151515" stroke="#151515" stroke-width="0.28" font-weight="bold" >0</text>
<line x1="219.85" y1="167.80" x2="221.75" y2="167.80" stroke="#3a3a3a" stroke-width="0.7" />
<text x="219.15" y="169.05" font-size="3.5" text-anchor="end" fill="#151515" stroke="#151515" stroke-width="0.28" font-weight="bold" >20</text>
<line x1="219.85" y1="156.10" x2="221.75" y2="156.10" stroke="#3a3a3a" stroke-width="0.7" />
<text x="219.15" y="157.35" font-size="3.5" text-anchor="end" fill="#151515" stroke="#151515" stroke-width="0.28" font-weight="bold" >40</text>
<line x1="219.85" y1="144.40" x2="221.75" y2="144.40" stroke="#3a3a3a" stroke-width="0.7" />
<text x="219.15" y="145.65" font-size="3.5" text-anchor="end" fill="#151515" stroke="#151515" stroke-width="0.28" font-weight="bold" >60</text>
<line x1="219.85" y1="132.70" x2="221.75" y2="132.70" stroke="#3a3a3a" stroke-width="0.7" />
<text x="219.15" y="133.95" font-size="3.5" text-anchor="end" fill="#151515" stroke="#151515" stroke-width="0.28" font-weight="bold" >80</text>
<line x1="219.85" y1="121.00" x2="221.75" y2="121.00" stroke="#3a3a3a" stroke-width="0.7" />
<text x="219.15" y="122.25" font-size="3.5" text-anchor="end" fill="#151515" stroke="#151515" stroke-width="0.28" font-weight="bold" >100</text>
<line x1="219.85" y1="109.30" x2="221.75" y2="109.30" stroke="#3a3a3a" stroke-width="0.7" />
<text x="219.15" y="110.55" font-size="3.5" text-anchor="end" fill="#151515" stroke="#151515" stroke-width="0.28" font-weight="bold" >120</text>
<line x1="221.75" y1="179.50" x2="221.75" y2="181.40" stroke="#3a3a3a" stroke-width="0.7" />
<text x="221.75" y="186.40" font-size="3.5" text-anchor="middle" fill="#151515" stroke="#151515" stroke-width="0.28" font-weight="bold" >0</text>
<line x1="249.15" y1="179.50" x2="249.15" y2="181.40" stroke="#3a3a3a" stroke-width="0.7" />
<text x="249.15" y="186.40" font-size="3.5" text-anchor="middle" fill="#151515" stroke="#151515" stroke-width="0.28" font-weight="bold" >1</text>
<line x1="276.55" y1="179.50" x2="276.55" y2="181.40" stroke="#3a3a3a" stroke-width="0.7" />
<text x="276.55" y="186.40" font-size="3.5" text-anchor="middle" fill="#151515" stroke="#151515" stroke-width="0.28" font-weight="bold" >2</text>
<line x1="303.95" y1="179.50" x2="303.95" y2="181.40" stroke="#3a3a3a" stroke-width="0.7" />
<text x="303.95" y="186.40" font-size="3.5" text-anchor="middle" fill="#151515" stroke="#151515" stroke-width="0.28" font-weight="bold" >3</text>
<line x1="331.35" y1="179.50" x2="331.35" y2="181.40" stroke="#3a3a3a" stroke-width="0.7" />
<text x="331.35" y="186.40" font-size="3.5" text-anchor="middle" fill="#151515" stroke="#151515" stroke-width="0.28" font-weight="bold" >4</text>
<text x="208.00" y="142.50" font-size="5.45" text-anchor="middle" fill="#111" stroke="#111" stroke-width="0.22" font-weight="bold" transform="rotate(-90 208.0 142.5)" >Survival (% of control)</text>
<text x="276.00" y="194.60" font-size="5.2" text-anchor="middle" fill="#111" stroke="#111" stroke-width="0.3" ><tspan font-weight="bold">Melphalan </tspan>[µM]</text>
<path d="M221.75,121.00 L224.49,133.87 L249.15,154.93 L303.95,170.14" fill="none" stroke="#e8706c" stroke-width="0.6"/>
<rect x="220.85" y="120.10" width="1.80" height="1.80" fill="#e8706c" />
<line x1="224.49" y1="132.12" x2="224.49" y2="135.62" stroke="#e8706c" stroke-width="0.5" />
<line x1="223.69" y1="132.12" x2="225.29" y2="132.12" stroke="#e8706c" stroke-width="0.5" />
<line x1="223.69" y1="135.62" x2="225.29" y2="135.62" stroke="#e8706c" stroke-width="0.5" />
<rect x="223.59" y="132.97" width="1.80" height="1.80" fill="#e8706c" />
<line x1="249.15" y1="153.76" x2="249.15" y2="156.10" stroke="#e8706c" stroke-width="0.5" />
<line x1="248.35" y1="153.76" x2="249.95" y2="153.76" stroke="#e8706c" stroke-width="0.5" />
<line x1="248.35" y1="156.10" x2="249.95" y2="156.10" stroke="#e8706c" stroke-width="0.5" />
<rect x="248.25" y="154.03" width="1.80" height="1.80" fill="#e8706c" />
<line x1="303.95" y1="169.55" x2="303.95" y2="170.72" stroke="#e8706c" stroke-width="0.5" />
<line x1="303.15" y1="169.55" x2="304.75" y2="169.55" stroke="#e8706c" stroke-width="0.5" />
<line x1="303.15" y1="170.72" x2="304.75" y2="170.72" stroke="#e8706c" stroke-width="0.5" />
<rect x="303.05" y="169.24" width="1.80" height="1.80" fill="#e8706c" />
<path d="M221.75,121.00 L224.49,137.38 L249.15,151.42 L303.95,157.85" fill="none" stroke="#3a3a3a" stroke-width="0.6"/>
<circle cx="221.75" cy="121.00" r="0.95" fill="#3a3a3a"/>
<line x1="224.49" y1="135.62" x2="224.49" y2="139.13" stroke="#3a3a3a" stroke-width="0.5" />
<line x1="223.69" y1="135.62" x2="225.29" y2="135.62" stroke="#3a3a3a" stroke-width="0.5" />
<line x1="223.69" y1="139.13" x2="225.29" y2="139.13" stroke="#3a3a3a" stroke-width="0.5" />
<circle cx="224.49" cy="137.38" r="0.95" fill="#3a3a3a"/>
<line x1="249.15" y1="149.67" x2="249.15" y2="153.18" stroke="#3a3a3a" stroke-width="0.5" />
<line x1="248.35" y1="149.67" x2="249.95" y2="149.67" stroke="#3a3a3a" stroke-width="0.5" />
<line x1="248.35" y1="153.18" x2="249.95" y2="153.18" stroke="#3a3a3a" stroke-width="0.5" />
<circle cx="249.15" cy="151.42" r="0.95" fill="#3a3a3a"/>
<line x1="303.95" y1="156.69" x2="303.95" y2="159.02" stroke="#3a3a3a" stroke-width="0.5" />
<line x1="303.15" y1="156.69" x2="304.75" y2="156.69" stroke="#3a3a3a" stroke-width="0.5" />
<line x1="303.15" y1="159.02" x2="304.75" y2="159.02" stroke="#3a3a3a" stroke-width="0.5" />
<circle cx="303.95" cy="157.85" r="0.95" fill="#3a3a3a"/>
<path d="M221.75,121.00 L224.49,135.62 L249.15,149.08 L303.95,158.44" fill="none" stroke="#3d4a7a" stroke-width="0.6"/>
<path d="M220.65,121.80 L222.85,121.80 L221.75,119.90 Z" fill="#3d4a7a"/>
<line x1="224.49" y1="133.87" x2="224.49" y2="137.38" stroke="#3d4a7a" stroke-width="0.5" />
<line x1="223.69" y1="133.87" x2="225.29" y2="133.87" stroke="#3d4a7a" stroke-width="0.5" />
<line x1="223.69" y1="137.38" x2="225.29" y2="137.38" stroke="#3d4a7a" stroke-width="0.5" />
<path d="M223.39,136.43 L225.59,136.43 L224.49,134.53 Z" fill="#3d4a7a"/>
<line x1="249.15" y1="147.33" x2="249.15" y2="150.84" stroke="#3d4a7a" stroke-width="0.5" />
<line x1="248.35" y1="147.33" x2="249.95" y2="147.33" stroke="#3d4a7a" stroke-width="0.5" />
<line x1="248.35" y1="150.84" x2="249.95" y2="150.84" stroke="#3d4a7a" stroke-width="0.5" />
<path d="M248.05,149.88 L250.25,149.88 L249.15,147.98 Z" fill="#3d4a7a"/>
<line x1="303.95" y1="156.69" x2="303.95" y2="160.19" stroke="#3d4a7a" stroke-width="0.5" />
<line x1="303.15" y1="156.69" x2="304.75" y2="156.69" stroke="#3d4a7a" stroke-width="0.5" />
<line x1="303.15" y1="160.19" x2="304.75" y2="160.19" stroke="#3d4a7a" stroke-width="0.5" />
<path d="M302.85,159.24 L305.05,159.24 L303.95,157.34 Z" fill="#3d4a7a"/>
<path d="M221.75,121.00 L224.49,132.70 L249.15,152.59 L303.95,157.27" fill="none" stroke="#f2ab98" stroke-width="0.6"/>
<rect x="220.85" y="120.10" width="1.80" height="1.80" fill="#f2ab98" />
<line x1="224.49" y1="130.94" x2="224.49" y2="134.45" stroke="#f2ab98" stroke-width="0.5" />
<line x1="223.69" y1="130.94" x2="225.29" y2="130.94" stroke="#f2ab98" stroke-width="0.5" />
<line x1="223.69" y1="134.45" x2="225.29" y2="134.45" stroke="#f2ab98" stroke-width="0.5" />
<rect x="223.59" y="131.80" width="1.80" height="1.80" fill="#f2ab98" />
<line x1="249.15" y1="151.42" x2="249.15" y2="153.76" stroke="#f2ab98" stroke-width="0.5" />
<line x1="248.35" y1="151.42" x2="249.95" y2="151.42" stroke="#f2ab98" stroke-width="0.5" />
<line x1="248.35" y1="153.76" x2="249.95" y2="153.76" stroke="#f2ab98" stroke-width="0.5" />
<rect x="248.25" y="151.69" width="1.80" height="1.80" fill="#f2ab98" />
<line x1="303.95" y1="156.10" x2="303.95" y2="158.44" stroke="#f2ab98" stroke-width="0.5" />
<line x1="303.15" y1="156.10" x2="304.75" y2="156.10" stroke="#f2ab98" stroke-width="0.5" />
<line x1="303.15" y1="158.44" x2="304.75" y2="158.44" stroke="#f2ab98" stroke-width="0.5" />
<rect x="303.05" y="156.37" width="1.80" height="1.80" fill="#f2ab98" />
<path d="M221.75,121.00 L224.49,126.27 L249.15,133.87 L303.95,141.47" fill="none" stroke="#2a2f60" stroke-width="0.6"/>
<circle cx="221.75" cy="121.00" r="0.95" fill="#2a2f60"/>
<line x1="224.49" y1="124.51" x2="224.49" y2="128.02" stroke="#2a2f60" stroke-width="0.5" />
<line x1="223.69" y1="124.51" x2="225.29" y2="124.51" stroke="#2a2f60" stroke-width="0.5" />
<line x1="223.69" y1="128.02" x2="225.29" y2="128.02" stroke="#2a2f60" stroke-width="0.5" />
<circle cx="224.49" cy="126.27" r="0.95" fill="#2a2f60"/>
<line x1="249.15" y1="133.28" x2="249.15" y2="134.46" stroke="#2a2f60" stroke-width="0.5" />
<line x1="248.35" y1="133.28" x2="249.95" y2="133.28" stroke="#2a2f60" stroke-width="0.5" />
<line x1="248.35" y1="134.46" x2="249.95" y2="134.46" stroke="#2a2f60" stroke-width="0.5" />
<circle cx="249.15" cy="133.87" r="0.95" fill="#2a2f60"/>
<line x1="303.95" y1="140.31" x2="303.95" y2="142.64" stroke="#2a2f60" stroke-width="0.5" />
<line x1="303.15" y1="140.31" x2="304.75" y2="140.31" stroke="#2a2f60" stroke-width="0.5" />
<line x1="303.15" y1="142.64" x2="304.75" y2="142.64" stroke="#2a2f60" stroke-width="0.5" />
<circle cx="303.95" cy="141.47" r="0.95" fill="#2a2f60"/>
<path d="M221.75,121.00 L224.49,125.68 L249.15,130.94 L303.95,134.46" fill="none" stroke="#1a1a1a" stroke-width="0.6"/>
<circle cx="221.75" cy="121.00" r="0.95" fill="#1a1a1a"/>
<line x1="224.49" y1="124.51" x2="224.49" y2="126.85" stroke="#1a1a1a" stroke-width="0.5" />
<line x1="223.69" y1="124.51" x2="225.29" y2="124.51" stroke="#1a1a1a" stroke-width="0.5" />
<line x1="223.69" y1="126.85" x2="225.29" y2="126.85" stroke="#1a1a1a" stroke-width="0.5" />
<circle cx="224.49" cy="125.68" r="0.95" fill="#1a1a1a"/>
<line x1="249.15" y1="130.36" x2="249.15" y2="131.53" stroke="#1a1a1a" stroke-width="0.5" />
<line x1="248.35" y1="130.36" x2="249.95" y2="130.36" stroke="#1a1a1a" stroke-width="0.5" />
<line x1="248.35" y1="131.53" x2="249.95" y2="131.53" stroke="#1a1a1a" stroke-width="0.5" />
<circle cx="249.15" cy="130.94" r="0.95" fill="#1a1a1a"/>
<line x1="303.95" y1="133.87" x2="303.95" y2="135.04" stroke="#1a1a1a" stroke-width="0.5" />
<line x1="303.15" y1="133.87" x2="304.75" y2="133.87" stroke="#1a1a1a" stroke-width="0.5" />
<line x1="303.15" y1="135.04" x2="304.75" y2="135.04" stroke="#1a1a1a" stroke-width="0.5" />
<circle cx="303.95" cy="134.46" r="0.95" fill="#1a1a1a"/>
<line x1="311" y1="144.40" x2="318.5" y2="144.40" stroke="#e8706c" stroke-width="0.55"/>
<rect x="313.85" y="143.50" width="1.80" height="1.80" fill="#e8706c" />
<text x="322.20" y="145.80" font-size="3.9" fill="#000" stroke="#000" stroke-width="0.26" ><tspan font-weight="bold">ctr </tspan>(SIRT6 KD)</text>
<line x1="311" y1="150.50" x2="318.5" y2="150.50" stroke="#3a3a3a" stroke-width="0.55"/>
<circle cx="314.75" cy="150.50" r="0.95" fill="#3a3a3a"/>
<text x="322.20" y="151.90" font-size="3.9" fill="#000" stroke="#000" stroke-width="0.26" ><tspan font-weight="bold">+Mek [1µM] </tspan>(SIRT6KD)</text>
<line x1="311" y1="156.60" x2="318.5" y2="156.60" stroke="#3d4a7a" stroke-width="0.55"/>
<path d="M313.65,157.40 L315.85,157.40 L314.75,155.50 Z" fill="#3d4a7a"/>
<text x="322.20" y="158.00" font-size="3.9" fill="#000" stroke="#000" stroke-width="0.26" ><tspan font-weight="bold">+Mek [3µM] </tspan>(SIRT6KD)</text>
<line x1="311" y1="162.10" x2="318.5" y2="162.10" stroke="#f2ab98" stroke-width="0.55"/>
<rect x="313.85" y="161.20" width="1.80" height="1.80" fill="#f2ab98" />
<text x="322.20" y="163.50" font-size="3.9" text-anchor="start" fill="#000" stroke="#000" stroke-width="0.26" font-weight="bold" >ctr</text>
<line x1="311" y1="168.00" x2="318.5" y2="168.00" stroke="#2c4a6a" stroke-width="0.55"/>
<circle cx="314.75" cy="168.00" r="0.95" fill="#2c4a6a"/>
<text x="322.20" y="169.40" font-size="3.9" text-anchor="start" fill="#000" stroke="#000" stroke-width="0.26" font-weight="bold" >+Mek [1µM]</text>
<line x1="311" y1="173.60" x2="318.5" y2="173.60" stroke="#5a3c8c" stroke-width="0.55"/>
<path d="M313.65,174.40 L315.85,174.40 L314.75,172.50 Z" fill="#5a3c8c"/>
<text x="322.20" y="175.00" font-size="3.9" text-anchor="start" fill="#000" stroke="#000" stroke-width="0.26" font-weight="bold" >+Mek [3µM]</text>
<text x="417.80" y="66.00" font-size="3.9" text-anchor="end" fill="#000" stroke="#000" stroke-width="0.35" font-weight="bold" >RSK2</text>
<text x="417.80" y="74.20" font-size="3.9" text-anchor="end" fill="#000" stroke="#000" stroke-width="0.35" font-weight="bold" >SIRT6</text>
<text x="417.80" y="82.10" font-size="3.9" text-anchor="end" fill="#000" stroke="#000" stroke-width="0.35" font-weight="bold" >GAPDH</text>
<rect x="420.90" y="61.40" width="54.00" height="6.30" fill="#dedede" stroke="#666" stroke-width="0.6" />
<rect x="420.90" y="69.50" width="54.00" height="6.80" fill="#dadada" stroke="#666" stroke-width="0.6" />
<rect x="420.90" y="77.60" width="54.00" height="6.60" fill="#d6d6d6" stroke="#666" stroke-width="0.6" />
<rect x="422.80" y="63.5" width="7.00" height="1.3" rx="0.6" fill="#9a9a9a"/>
<rect x="432.50" y="63.5" width="7.50" height="1.3" rx="0.6" fill="#a8a8a8"/>
<rect x="422.6" y="71.5" width="7.8" height="2.7" rx="1" fill="#0e0e0e"/>
<rect x="432.5" y="72.2" width="8" height="1.4" rx="0.6" fill="#9c9c9c"/>
<rect x="442.2" y="72.2" width="8" height="1.4" rx="0.6" fill="#b0b0b0"/>
<rect x="452.5" y="72.2" width="8" height="1.4" rx="0.6" fill="#a0a0a0"/>
<rect x="463.5" y="72.2" width="8" height="1.4" rx="0.6" fill="#bcbcbc"/>
<rect x="422.7" y="79.60" width="8.2" height="2.4" rx="1" fill="#111"/>
<rect x="432.3" y="79.60" width="8.4" height="2.4" rx="1" fill="#111"/>
<rect x="442.0" y="79.60" width="8.2" height="2.4" rx="1" fill="#111"/>
<rect x="451.8" y="79.30" width="9.2" height="3.0" rx="1" fill="#111"/>
<rect x="462.8" y="79.45" width="10.2" height="2.7" rx="1" fill="#111"/>
<line x1="431.50" y1="86.80" x2="475.20" y2="86.80" stroke="#000" stroke-width="1.0" />
<text x="452.10" y="93.40" font-size="3.75" text-anchor="middle" fill="#000" stroke="#000" stroke-width="0.35" font-weight="bold" >MM.1S SIRT6KD</text>
<text x="425.60" y="57.80" font-size="3.72" text-anchor="start" fill="#000" stroke="#000" stroke-width="0.45" font-weight="bold" transform="rotate(-40.5 425.6 57.8)" >WT cells</text>
<text x="437.40" y="57.80" font-size="3.72" text-anchor="start" fill="#000" stroke="#000" stroke-width="0.45" font-weight="bold" transform="rotate(-40.5 437.4 57.8)" >Non-specific siRNA</text>
<text x="448.60" y="57.80" font-size="3.72" text-anchor="start" fill="#000" stroke="#000" stroke-width="0.45" font-weight="bold" transform="rotate(-40.5 448.6 57.8)" >RSK2 siRNA#1</text>
<text x="460.10" y="57.80" font-size="3.72" text-anchor="start" fill="#000" stroke="#000" stroke-width="0.45" font-weight="bold" transform="rotate(-40.5 460.1 57.8)" >RSK2 siRNA#2</text>
<text x="471.60" y="57.80" font-size="3.72" text-anchor="start" fill="#000" stroke="#000" stroke-width="0.45" font-weight="bold" transform="rotate(-40.5 471.6 57.8)" >RSK2 siRNA#3</text>
<line x1="395.60" y1="182.00" x2="395.60" y2="114.30" stroke="#3a3a3a" stroke-width="0.95" />
<line x1="395.10" y1="181.50" x2="508.00" y2="181.50" stroke="#3a3a3a" stroke-width="0.95" />
<line x1="393.70" y1="181.50" x2="395.60" y2="181.50" stroke="#3a3a3a" stroke-width="0.7" />
<text x="393.00" y="182.75" font-size="3.5" text-anchor="end" fill="#151515" stroke="#151515" stroke-width="0.28" font-weight="bold" >0</text>
<line x1="393.70" y1="170.30" x2="395.60" y2="170.30" stroke="#3a3a3a" stroke-width="0.7" />
<text x="393.00" y="171.55" font-size="3.5" text-anchor="end" fill="#151515" stroke="#151515" stroke-width="0.28" font-weight="bold" >20</text>
<line x1="393.70" y1="159.10" x2="395.60" y2="159.10" stroke="#3a3a3a" stroke-width="0.7" />
<text x="393.00" y="160.35" font-size="3.5" text-anchor="end" fill="#151515" stroke="#151515" stroke-width="0.28" font-weight="bold" >40</text>
<line x1="393.70" y1="147.90" x2="395.60" y2="147.90" stroke="#3a3a3a" stroke-width="0.7" />
<text x="393.00" y="149.15" font-size="3.5" text-anchor="end" fill="#151515" stroke="#151515" stroke-width="0.28" font-weight="bold" >60</text>
<line x1="393.70" y1="136.70" x2="395.60" y2="136.70" stroke="#3a3a3a" stroke-width="0.7" />
<text x="393.00" y="137.95" font-size="3.5" text-anchor="end" fill="#151515" stroke="#151515" stroke-width="0.28" font-weight="bold" >80</text>
<line x1="393.70" y1="125.50" x2="395.60" y2="125.50" stroke="#3a3a3a" stroke-width="0.7" />
<text x="393.00" y="126.75" font-size="3.5" text-anchor="end" fill="#151515" stroke="#151515" stroke-width="0.28" font-weight="bold" >100</text>
<line x1="393.70" y1="114.30" x2="395.60" y2="114.30" stroke="#3a3a3a" stroke-width="0.7" />
<text x="393.00" y="115.55" font-size="3.5" text-anchor="end" fill="#151515" stroke="#151515" stroke-width="0.28" font-weight="bold" >120</text>
<text x="382.20" y="148.30" font-size="4.4" text-anchor="middle" fill="#111" stroke="#111" stroke-width="0.32" font-weight="bold" transform="rotate(-90 382.2 148.3)" >Survival (% control)</text>
<rect x="401.40" y="169.30" width="10.90" height="12.20" fill="#ffffff" stroke="#333" stroke-width="0.55" />
<line x1="406.85" y1="168.60" x2="406.85" y2="169.30" stroke="#222" stroke-width="0.5" />
<line x1="404.65" y1="168.60" x2="409.05" y2="168.60" stroke="#222" stroke-width="0.55" />
<rect x="412.30" y="139.30" width="11.30" height="42.20" fill="#d2d2d2" stroke="#333" stroke-width="0.55" />
<line x1="417.95" y1="137.90" x2="417.95" y2="139.30" stroke="#222" stroke-width="0.5" />
<line x1="415.75" y1="137.90" x2="420.15" y2="137.90" stroke="#222" stroke-width="0.55" />
<rect x="423.60" y="143.20" width="11.30" height="38.30" fill="#8c8c8c" stroke="#333" stroke-width="0.55" />
<line x1="429.25" y1="141.60" x2="429.25" y2="143.20" stroke="#222" stroke-width="0.5" />
<line x1="427.05" y1="141.60" x2="431.45" y2="141.60" stroke="#222" stroke-width="0.55" />
<rect x="434.90" y="147.10" width="10.80" height="34.40" fill="#5e5e5e" stroke="#333" stroke-width="0.55" />
<line x1="440.30" y1="145.50" x2="440.30" y2="147.10" stroke="#222" stroke-width="0.5" />
<line x1="438.10" y1="145.50" x2="442.50" y2="145.50" stroke="#222" stroke-width="0.55" />
<rect x="456.20" y="171.30" width="10.80" height="10.20" fill="#ffffff" stroke="#333" stroke-width="0.55" />
<line x1="461.60" y1="170.60" x2="461.60" y2="171.30" stroke="#222" stroke-width="0.5" />
<line x1="459.40" y1="170.60" x2="463.80" y2="170.60" stroke="#222" stroke-width="0.55" />
<rect x="467.00" y="143.20" width="11.50" height="38.30" fill="#d2d2d2" stroke="#333" stroke-width="0.55" />
<line x1="472.75" y1="142.20" x2="472.75" y2="143.20" stroke="#222" stroke-width="0.5" />
<line x1="470.55" y1="142.20" x2="474.95" y2="142.20" stroke="#222" stroke-width="0.55" />
<rect x="478.50" y="145.80" width="10.80" height="35.70" fill="#8c8c8c" stroke="#333" stroke-width="0.55" />
<line x1="483.90" y1="144.50" x2="483.90" y2="145.80" stroke="#222" stroke-width="0.5" />
<line x1="481.70" y1="144.50" x2="486.10" y2="144.50" stroke="#222" stroke-width="0.55" />
<rect x="489.30" y="145.10" width="10.70" height="36.40" fill="#5e5e5e" stroke="#333" stroke-width="0.55" />
<line x1="494.65" y1="144.20" x2="494.65" y2="145.10" stroke="#222" stroke-width="0.5" />
<line x1="492.45" y1="144.20" x2="496.85" y2="144.20" stroke="#222" stroke-width="0.55" />
<text x="423.00" y="188.70" font-size="3.75" text-anchor="middle" fill="#111" stroke="#111" stroke-width="0.3" font-weight="bold" >Doxorubicin</text>
<text x="478.60" y="188.70" font-size="3.75" text-anchor="middle" fill="#111" stroke="#111" stroke-width="0.3" font-weight="bold" >Melphalan</text>
<rect x="485.50" y="104.40" width="2.90" height="2.90" fill="#ffffff" stroke="#333" stroke-width="0.55" />
<text x="490.80" y="106.90" font-size="3.15" text-anchor="start" fill="#000" stroke="#000" stroke-width="0.3" font-weight="bold" >Non-specific siRNA</text>
<rect x="485.50" y="108.60" width="2.90" height="2.90" fill="#d2d2d2" stroke="#333" stroke-width="0.55" />
<text x="490.80" y="111.10" font-size="3.15" text-anchor="start" fill="#000" stroke="#000" stroke-width="0.3" font-weight="bold" >RSK2 siRNA #1</text>
<rect x="485.50" y="112.80" width="2.90" height="2.90" fill="#8c8c8c" stroke="#333" stroke-width="0.55" />
<text x="490.80" y="115.30" font-size="3.15" text-anchor="start" fill="#000" stroke="#000" stroke-width="0.3" font-weight="bold" >RSK2 siRNA #2</text>
<rect x="485.50" y="116.90" width="2.90" height="2.90" fill="#5e5e5e" stroke="#333" stroke-width="0.55" />
<text x="490.80" y="119.40" font-size="3.15" text-anchor="start" fill="#000" stroke="#000" stroke-width="0.3" font-weight="bold" >RSK2 siRNA #3</text>
<text x="418.80" y="137.39" font-size="3.9" text-anchor="middle" fill="#222" stroke="#222" stroke-width="0.25" font-weight="bold" >****</text>
<text x="429.20" y="141.69" font-size="3.9" text-anchor="middle" fill="#222" stroke="#222" stroke-width="0.25" font-weight="bold" >***</text>
<text x="440.30" y="145.39" font-size="3.9" text-anchor="middle" fill="#222" stroke="#222" stroke-width="0.25" font-weight="bold" >****</text>
<text x="472.80" y="141.49" font-size="3.9" text-anchor="middle" fill="#222" stroke="#222" stroke-width="0.25" font-weight="bold" >****</text>
<text x="484.10" y="144.09" font-size="3.9" text-anchor="middle" fill="#222" stroke="#222" stroke-width="0.25" font-weight="bold" >***</text>
<text x="494.60" y="144.59" font-size="3.9" text-anchor="middle" fill="#222" stroke="#222" stroke-width="0.25" font-weight="bold" >***</text>
<line x1="35.40" y1="321.10" x2="35.40" y2="253.25" stroke="#3a3a3a" stroke-width="0.95" />
<line x1="34.90" y1="320.60" x2="134.50" y2="320.60" stroke="#3a3a3a" stroke-width="0.95" />
<line x1="33.50" y1="320.60" x2="35.40" y2="320.60" stroke="#3a3a3a" stroke-width="0.7" />
<text x="32.80" y="321.85" font-size="3.5" text-anchor="end" fill="#151515" stroke="#151515" stroke-width="0.28" font-weight="bold" >0.0</text>
<line x1="33.50" y1="298.15" x2="35.40" y2="298.15" stroke="#3a3a3a" stroke-width="0.7" />
<text x="32.80" y="299.40" font-size="3.5" text-anchor="end" fill="#151515" stroke="#151515" stroke-width="0.28" font-weight="bold" >0.5</text>
<line x1="33.50" y1="275.70" x2="35.40" y2="275.70" stroke="#3a3a3a" stroke-width="0.7" />
<text x="32.80" y="276.95" font-size="3.5" text-anchor="end" fill="#151515" stroke="#151515" stroke-width="0.28" font-weight="bold" >1.0</text>
<line x1="33.50" y1="253.25" x2="35.40" y2="253.25" stroke="#3a3a3a" stroke-width="0.7" />
<text x="32.80" y="254.50" font-size="3.5" text-anchor="end" fill="#151515" stroke="#151515" stroke-width="0.28" font-weight="bold" >1.5</text>
<text x="15.30" y="287.20" font-size="4.7" text-anchor="middle" fill="#111" stroke="#111" stroke-width="0.32" font-weight="bold" transform="rotate(-90 15.3 287.2)" >H3K56Ac bound to Alu</text>
<text x="21.20" y="286.50" font-size="4.7" text-anchor="middle" fill="#111" stroke="#111" stroke-width="0.32"  transform="rotate(-90 21.2 286.5)" >(enrichment over IgG)</text>
<text x="76.20" y="246.00" font-size="4.7" text-anchor="middle" fill="#111" stroke="#111" stroke-width="0.32" font-weight="bold" >H3K56Ac ChIP, Alu PCR</text>
<rect x="41.70" y="255.70" width="2.50" height="2.50" fill="#eeeeee" stroke="#222" stroke-width="0.45" />
<text x="46.80" y="258.30" font-size="3.8" text-anchor="start" fill="#111" stroke="#111" stroke-width="0.32" font-weight="bold" >scramble</text>
<rect x="41.70" y="260.60" width="2.50" height="2.50" fill="#333" stroke="#222" stroke-width="0.45" />
<text x="46.80" y="263.20" font-size="3.8" text-anchor="start" fill="#111" stroke="#111" stroke-width="0.32" font-weight="bold" >SIRT6 KD</text>
<rect x="41.20" y="312.07" width="11.00" height="8.53" fill="#dedede" stroke="#555" stroke-width="0.5" />
<rect x="52.20" y="307.80" width="11.20" height="12.80" fill="#323232" stroke="#222" stroke-width="0.5" />
<line x1="57.80" y1="306.91" x2="57.80" y2="307.80" stroke="#222" stroke-width="0.5" />
<line x1="55.80" y1="306.91" x2="59.80" y2="306.91" stroke="#222" stroke-width="0.5" />
<rect x="74.60" y="316.11" width="10.90" height="4.49" fill="#dedede" stroke="#555" stroke-width="0.5" />
<rect x="85.50" y="296.80" width="11.50" height="23.80" fill="#323232" stroke="#222" stroke-width="0.5" />
<line x1="91.25" y1="295.91" x2="91.25" y2="296.80" stroke="#222" stroke-width="0.5" />
<line x1="89.25" y1="295.91" x2="93.25" y2="295.91" stroke="#222" stroke-width="0.5" />
<rect x="107.60" y="319.93" width="10.60" height="0.67" fill="#dedede" stroke="#555" stroke-width="0.5" />
<rect x="118.20" y="276.82" width="11.50" height="43.78" fill="#323232" stroke="#222" stroke-width="0.5" />
<line x1="123.95" y1="275.92" x2="123.95" y2="276.82" stroke="#222" stroke-width="0.5" />
<line x1="121.95" y1="275.92" x2="125.95" y2="275.92" stroke="#222" stroke-width="0.5" />
<path d="M46.20,308.80 L46.20,303.50 L58.40,303.50 L58.40,305.30" fill="none" stroke="#444" stroke-width="0.55"/>
<text x="52.50" y="301.46" font-size="6.0" text-anchor="middle" fill="#111" stroke="#111" stroke-width="0.2" font-weight="bold" >****</text>
<path d="M80.40,313.50 L80.40,291.20 L90.80,291.20 L90.80,293.60" fill="none" stroke="#444" stroke-width="0.55"/>
<text x="85.50" y="289.96" font-size="6.0" text-anchor="middle" fill="#111" stroke="#111" stroke-width="0.2" font-weight="bold" >****</text>
<path d="M112.60,317.00 L112.60,270.40 L123.80,270.40 L123.80,273.80" fill="none" stroke="#666" stroke-width="0.55"/>
<text x="118.60" y="269.66" font-size="6.0" text-anchor="middle" fill="#111" stroke="#111" stroke-width="0.2" font-weight="bold" >****</text>
<text x="52.60" y="330.20" font-size="4.6" text-anchor="middle" fill="#111" stroke="#111" stroke-width="0.32" font-weight="bold" >untreated</text>
<text x="84.80" y="330.20" font-size="4.6" text-anchor="middle" fill="#111" stroke="#111" stroke-width="0.32" font-weight="bold" >Doxorubicin</text>
<text x="118.00" y="330.20" font-size="4.6" text-anchor="middle" fill="#111" stroke="#111" stroke-width="0.32" font-weight="bold" >Melphalan</text>
<line x1="212.00" y1="321.10" x2="212.00" y2="253.60" stroke="#3a3a3a" stroke-width="0.95" />
<line x1="211.50" y1="320.60" x2="311.30" y2="320.60" stroke="#3a3a3a" stroke-width="0.95" />
<line x1="210.10" y1="320.60" x2="212.00" y2="320.60" stroke="#3a3a3a" stroke-width="0.7" />
<text x="209.40" y="321.85" font-size="3.5" text-anchor="end" fill="#151515" stroke="#151515" stroke-width="0.28" font-weight="bold" >0.0</text>
<line x1="210.10" y1="307.20" x2="212.00" y2="307.20" stroke="#3a3a3a" stroke-width="0.7" />
<text x="209.40" y="308.45" font-size="3.5" text-anchor="end" fill="#151515" stroke="#151515" stroke-width="0.28" font-weight="bold" >0.2</text>
<line x1="210.10" y1="293.80" x2="212.00" y2="293.80" stroke="#3a3a3a" stroke-width="0.7" />
<text x="209.40" y="295.05" font-size="3.5" text-anchor="end" fill="#151515" stroke="#151515" stroke-width="0.28" font-weight="bold" >0.4</text>
<line x1="210.10" y1="280.40" x2="212.00" y2="280.40" stroke="#3a3a3a" stroke-width="0.7" />
<text x="209.40" y="281.65" font-size="3.5" text-anchor="end" fill="#151515" stroke="#151515" stroke-width="0.28" font-weight="bold" >0.6</text>
<line x1="210.10" y1="267.00" x2="212.00" y2="267.00" stroke="#3a3a3a" stroke-width="0.7" />
<text x="209.40" y="268.25" font-size="3.5" text-anchor="end" fill="#151515" stroke="#151515" stroke-width="0.28" font-weight="bold" >0.8</text>
<line x1="210.10" y1="253.60" x2="212.00" y2="253.60" stroke="#3a3a3a" stroke-width="0.7" />
<text x="209.40" y="254.85" font-size="3.5" text-anchor="end" fill="#151515" stroke="#151515" stroke-width="0.28" font-weight="bold" >1.0</text>
<text x="194.10" y="284.60" font-size="4.5" text-anchor="middle" fill="#111" stroke="#111" stroke-width="0.32" font-weight="bold" transform="rotate(-90 194.1 284.6)" >SIRT6 bound to Alu</text>
<text x="198.90" y="283.60" font-size="4.3" text-anchor="middle" fill="#111" stroke="#111" stroke-width="0.32"  transform="rotate(-90 198.9 283.6)" >(enrichment over IgG)</text>
<text x="251.20" y="246.00" font-size="4.7" text-anchor="middle" fill="#111" stroke="#111" stroke-width="0.32" font-weight="bold" >SIRT6 ChIP, Alu PCR</text>
<rect x="217.90" y="257.40" width="2.50" height="2.50" fill="#eeeeee" stroke="#222" stroke-width="0.45" />
<text x="223.50" y="259.90" font-size="3.8" text-anchor="start" fill="#111" stroke="#111" stroke-width="0.32" font-weight="bold" >control</text>
<rect x="217.90" y="262.30" width="2.50" height="2.50" fill="#333" stroke="#222" stroke-width="0.45" />
<text x="223.50" y="264.80" font-size="3.8" text-anchor="start" fill="#111" stroke="#111" stroke-width="0.32" font-weight="bold" >+OSS_128167</text>
<rect x="217.60" y="311.80" width="11.70" height="8.80" fill="#dedede" stroke="#555" stroke-width="0.55" />
<rect x="229.30" y="314.70" width="10.80" height="5.90" fill="#323232" stroke="#222" stroke-width="0.5" />
<line x1="223.45" y1="305.50" x2="223.45" y2="311.80" stroke="#333" stroke-width="0.55" />
<line x1="220.85" y1="305.50" x2="226.05" y2="305.50" stroke="#333" stroke-width="0.55" />
<line x1="234.70" y1="311.30" x2="234.70" y2="314.70" stroke="#333" stroke-width="0.55" />
<line x1="232.10" y1="311.30" x2="237.30" y2="311.30" stroke="#333" stroke-width="0.55" />
<rect x="250.90" y="291.10" width="11.50" height="29.50" fill="#dedede" stroke="#555" stroke-width="0.55" />
<rect x="262.40" y="305.40" width="10.70" height="15.20" fill="#323232" stroke="#222" stroke-width="0.5" />
<line x1="256.65" y1="285.80" x2="256.65" y2="291.10" stroke="#333" stroke-width="0.55" />
<line x1="254.05" y1="285.80" x2="259.25" y2="285.80" stroke="#333" stroke-width="0.55" />
<line x1="267.75" y1="304.60" x2="267.75" y2="305.40" stroke="#333" stroke-width="0.55" />
<line x1="265.15" y1="304.60" x2="270.35" y2="304.60" stroke="#333" stroke-width="0.55" />
<rect x="284.60" y="293.10" width="11.20" height="27.50" fill="#dedede" stroke="#555" stroke-width="0.55" />
<rect x="295.80" y="314.20" width="10.50" height="6.40" fill="#323232" stroke="#222" stroke-width="0.5" />
<line x1="290.20" y1="287.20" x2="290.20" y2="293.10" stroke="#333" stroke-width="0.55" />
<line x1="287.60" y1="287.20" x2="292.80" y2="287.20" stroke="#333" stroke-width="0.55" />
<line x1="301.05" y1="313.60" x2="301.05" y2="314.20" stroke="#333" stroke-width="0.55" />
<line x1="298.45" y1="313.60" x2="303.65" y2="313.60" stroke="#333" stroke-width="0.55" />
<path d="M223.50,305.20 L223.50,301.40 L234.90,301.40 L234.90,307.60" fill="none" stroke="#555" stroke-width="0.55"/>
<text x="229.80" y="299.40" font-size="3.9" text-anchor="middle" fill="#111" stroke="#111" stroke-width="0.25" font-weight="bold" >ns</text>
<path d="M256.20,285.40 L256.20,279.90 L268.70,279.90 L268.70,302.30" fill="none" stroke="#555" stroke-width="0.55"/>
<text x="261.90" y="278.96" font-size="6.0" text-anchor="middle" fill="#111" stroke="#111" stroke-width="0.2" font-weight="bold" >*</text>
<path d="M289.90,286.80 L289.90,283.20 L301.70,283.20 L301.70,309.60" fill="none" stroke="#555" stroke-width="0.55"/>
<text x="295.40" y="284.26" font-size="6.0" text-anchor="middle" fill="#111" stroke="#111" stroke-width="0.2" font-weight="bold" >**</text>
<text x="229.00" y="329.90" font-size="4.6" text-anchor="middle" fill="#111" stroke="#111" stroke-width="0.32" font-weight="bold" >untreated</text>
<text x="261.50" y="329.90" font-size="4.6" text-anchor="middle" fill="#111" stroke="#111" stroke-width="0.32" font-weight="bold" >Doxorubicin</text>
<text x="294.00" y="329.90" font-size="4.6" text-anchor="middle" fill="#111" stroke="#111" stroke-width="0.32" font-weight="bold" >Melphalan</text>
<defs>
<radialGradient id="halo" cx="0.5" cy="0.5" r="0.5"><stop offset="0" stop-color="#555" stop-opacity="0.9"/><stop offset="0.6" stop-color="#999" stop-opacity="0.5"/><stop offset="1" stop-color="#bbb" stop-opacity="0"/></radialGradient>
<linearGradient id="tail" x1="0" y1="1" x2="1" y2="0"><stop offset="0" stop-color="#999" stop-opacity="0.8"/><stop offset="0.35" stop-color="#ddd" stop-opacity="0.5"/><stop offset="1" stop-color="#eee" stop-opacity="0"/></linearGradient>
<radialGradient id="dred" cx="0.5" cy="0.5" r="0.5"><stop offset="0" stop-color="#7a3535" stop-opacity="0.55"/><stop offset="1" stop-color="#a04848" stop-opacity="0"/></radialGradient>
<filter id="blur1" x="-50%" y="-50%" width="200%" height="200%"><feGaussianBlur stdDeviation="0.9"/></filter>
<filter id="blur05" x="-50%" y="-50%" width="200%" height="200%"><feGaussianBlur stdDeviation="0.45"/></filter>
</defs>
<rect x="363.10" y="227.10" width="31.10" height="31.20" fill="#ffffff" />
<path d="M363.10,227.10 L392.40,227.10 L363.10,254.00 Z" fill="#f47b78"/>
<path d="M394.20,232.80 L394.20,258.30 L367.50,258.30 Z" fill="#95dc90"/>
<path d="M365.30,256.15 L393.30,229.95" stroke="url(#tail)" stroke-width="1.6" fill="none" filter="url(#blur05)"/>
<ellipse cx="366.50" cy="248.90" rx="3.2" ry="5.5" fill="url(#dred)"/>
<ellipse cx="367.00" cy="254.40" rx="3.32" ry="3.06" fill="url(#halo)" transform="rotate(-45 367.00 254.40)"/>
<ellipse cx="367.00" cy="254.40" rx="2.5" ry="2.3" fill="#050505" transform="rotate(-45 367.00 254.40)" filter="url(#blur05)"/>
<rect x="363.10" y="227.10" width="31.10" height="31.20" fill="none" stroke="#b5b5b5" stroke-width="0.45" />
<text x="378.65" y="226.00" font-size="3.3" text-anchor="middle" fill="#111" stroke="#111" stroke-width="0.22" font-weight="bold" >Gated: 18.2%</text>
<text x="361.90" y="256.30" font-size="1.7" text-anchor="end" fill="#666" >10</text>
<text x="364.60" y="261.00" font-size="1.7" text-anchor="middle" fill="#666" >10</text>
<text x="361.90" y="249.50" font-size="1.7" text-anchor="end" fill="#666" >10</text>
<text x="371.40" y="261.00" font-size="1.7" text-anchor="middle" fill="#666" >10</text>
<text x="361.90" y="242.70" font-size="1.7" text-anchor="end" fill="#666" >10</text>
<text x="378.20" y="261.00" font-size="1.7" text-anchor="middle" fill="#666" >10</text>
<text x="361.90" y="235.90" font-size="1.7" text-anchor="end" fill="#666" >10</text>
<text x="385.00" y="261.00" font-size="1.7" text-anchor="middle" fill="#666" >10</text>
<text x="361.90" y="229.10" font-size="1.7" text-anchor="end" fill="#666" >10</text>
<text x="391.80" y="261.00" font-size="1.7" text-anchor="middle" fill="#666" >10</text>
<line x1="356.90" y1="237.70" x2="356.90" y2="247.70" stroke="#c8c8c8" stroke-width="0.5" />
<line x1="373.65" y1="264.30" x2="383.65" y2="264.30" stroke="#c8c8c8" stroke-width="0.5" />
<rect x="414.30" y="227.10" width="30.50" height="31.20" fill="#ffffff" />
<path d="M414.30,227.10 L441.80,227.10 L414.30,248.80 Z" fill="#f47b78"/>
<path d="M444.80,231.20 L444.80,258.30 L421.60,258.30 Z" fill="#95dc90"/>
<path d="M417.95,253.55 L443.30,229.15" stroke="url(#tail)" stroke-width="1.6" fill="none" filter="url(#blur05)"/>
<ellipse cx="418.70" cy="248.80" rx="3.2" ry="5.5" fill="url(#dred)"/>
<ellipse cx="419.20" cy="254.30" rx="4.39" ry="8.36" fill="url(#halo)" transform="rotate(0 419.20 254.30)"/>
<ellipse cx="419.20" cy="254.30" rx="2.1" ry="4.0" fill="#050505" transform="rotate(0 419.20 254.30)" filter="url(#blur05)"/>
<rect x="414.30" y="227.10" width="30.50" height="31.20" fill="none" stroke="#b5b5b5" stroke-width="0.45" />
<text x="429.55" y="226.00" font-size="3.3" text-anchor="middle" fill="#111" stroke="#111" stroke-width="0.22" font-weight="bold" >Gated: 12.8%</text>
<text x="413.10" y="256.30" font-size="1.7" text-anchor="end" fill="#666" >10</text>
<text x="415.80" y="261.00" font-size="1.7" text-anchor="middle" fill="#666" >10</text>
<text x="413.10" y="249.50" font-size="1.7" text-anchor="end" fill="#666" >10</text>
<text x="422.60" y="261.00" font-size="1.7" text-anchor="middle" fill="#666" >10</text>
<text x="413.10" y="242.70" font-size="1.7" text-anchor="end" fill="#666" >10</text>
<text x="429.40" y="261.00" font-size="1.7" text-anchor="middle" fill="#666" >10</text>
<text x="413.10" y="235.90" font-size="1.7" text-anchor="end" fill="#666" >10</text>
<text x="436.20" y="261.00" font-size="1.7" text-anchor="middle" fill="#666" >10</text>
<text x="413.10" y="229.10" font-size="1.7" text-anchor="end" fill="#666" >10</text>
<text x="443.00" y="261.00" font-size="1.7" text-anchor="middle" fill="#666" >10</text>
<line x1="408.10" y1="237.70" x2="408.10" y2="247.70" stroke="#c8c8c8" stroke-width="0.5" />
<line x1="424.55" y1="264.30" x2="434.55" y2="264.30" stroke="#c8c8c8" stroke-width="0.5" />
<rect x="465.10" y="225.80" width="31.70" height="31.60" fill="#ffffff" />
<path d="M465.10,225.80 L494.80,225.80 L465.10,249.80 Z" fill="#f47b78"/>
<path d="M496.80,231.10 L496.80,257.40 L473.60,257.40 Z" fill="#95dc90"/>
<path d="M469.35,253.60 L495.80,228.45" stroke="url(#tail)" stroke-width="1.6" fill="none" filter="url(#blur05)"/>
<ellipse cx="468.70" cy="248.50" rx="3.2" ry="5.5" fill="url(#dred)"/>
<ellipse cx="469.20" cy="254.00" rx="4.10" ry="3.76" fill="url(#halo)" transform="rotate(-45 469.20 254.00)"/>
<ellipse cx="469.20" cy="254.00" rx="2.4" ry="2.2" fill="#050505" transform="rotate(-45 469.20 254.00)" filter="url(#blur05)"/>
<rect x="465.10" y="225.80" width="31.70" height="31.60" fill="none" stroke="#b5b5b5" stroke-width="0.45" />
<text x="480.95" y="224.70" font-size="3.3" text-anchor="middle" fill="#111" stroke="#111" stroke-width="0.22" font-weight="bold" >Gated: 7.02%</text>
<text x="463.90" y="255.40" font-size="1.7" text-anchor="end" fill="#666" >10</text>
<text x="466.60" y="260.10" font-size="1.7" text-anchor="middle" fill="#666" >10</text>
<text x="463.90" y="248.60" font-size="1.7" text-anchor="end" fill="#666" >10</text>
<text x="473.40" y="260.10" font-size="1.7" text-anchor="middle" fill="#666" >10</text>
<text x="463.90" y="241.80" font-size="1.7" text-anchor="end" fill="#666" >10</text>
<text x="480.20" y="260.10" font-size="1.7" text-anchor="middle" fill="#666" >10</text>
<text x="463.90" y="235.00" font-size="1.7" text-anchor="end" fill="#666" >10</text>
<text x="487.00" y="260.10" font-size="1.7" text-anchor="middle" fill="#666" >10</text>
<text x="463.90" y="228.20" font-size="1.7" text-anchor="end" fill="#666" >10</text>
<text x="493.80" y="260.10" font-size="1.7" text-anchor="middle" fill="#666" >10</text>
<line x1="458.90" y1="236.60" x2="458.90" y2="246.60" stroke="#c8c8c8" stroke-width="0.5" />
<line x1="475.95" y1="263.40" x2="485.95" y2="263.40" stroke="#c8c8c8" stroke-width="0.5" />
<rect x="363.20" y="276.10" width="31.10" height="31.20" fill="#ffffff" />
<path d="M363.20,276.10 L391.70,276.10 L363.20,298.20 Z" fill="#f47b78"/>
<path d="M394.30,279.00 L394.30,307.30 L370.60,307.30 Z" fill="#95dc90"/>
<path d="M366.90,302.75 L393.00,277.55" stroke="url(#tail)" stroke-width="1.6" fill="none" filter="url(#blur05)"/>
<ellipse cx="368.10" cy="296.30" rx="3.2" ry="5.5" fill="url(#dred)"/>
<ellipse cx="368.60" cy="301.80" rx="8.74" ry="5.32" fill="url(#halo)" transform="rotate(-40 368.60 301.80)"/>
<ellipse cx="368.60" cy="301.80" rx="4.6" ry="2.8" fill="#050505" transform="rotate(-40 368.60 301.80)" filter="url(#blur05)"/>
<rect x="363.20" y="276.10" width="31.10" height="31.20" fill="none" stroke="#b5b5b5" stroke-width="0.45" />
<text x="378.75" y="275.00" font-size="3.3" text-anchor="middle" fill="#111" stroke="#111" stroke-width="0.22" font-weight="bold" >Gated: 9.67%</text>
<text x="362.00" y="305.30" font-size="1.7" text-anchor="end" fill="#666" >10</text>
<text x="364.70" y="310.00" font-size="1.7" text-anchor="middle" fill="#666" >10</text>
<text x="362.00" y="298.50" font-size="1.7" text-anchor="end" fill="#666" >10</text>
<text x="371.50" y="310.00" font-size="1.7" text-anchor="middle" fill="#666" >10</text>
<text x="362.00" y="291.70" font-size="1.7" text-anchor="end" fill="#666" >10</text>
<text x="378.30" y="310.00" font-size="1.7" text-anchor="middle" fill="#666" >10</text>
<text x="362.00" y="284.90" font-size="1.7" text-anchor="end" fill="#666" >10</text>
<text x="385.10" y="310.00" font-size="1.7" text-anchor="middle" fill="#666" >10</text>
<text x="362.00" y="278.10" font-size="1.7" text-anchor="end" fill="#666" >10</text>
<text x="391.90" y="310.00" font-size="1.7" text-anchor="middle" fill="#666" >10</text>
<line x1="357.00" y1="286.70" x2="357.00" y2="296.70" stroke="#c8c8c8" stroke-width="0.5" />
<line x1="373.75" y1="313.30" x2="383.75" y2="313.30" stroke="#c8c8c8" stroke-width="0.5" />
<rect x="414.00" y="276.10" width="30.80" height="30.80" fill="#ffffff" />
<path d="M414.00,276.10 L442.70,276.10 L414.00,298.00 Z" fill="#f47b78"/>
<path d="M444.80,279.40 L444.80,306.90 L422.70,306.90 Z" fill="#95dc90"/>
<path d="M418.35,302.45 L443.75,277.75" stroke="url(#tail)" stroke-width="1.6" fill="none" filter="url(#blur05)"/>
<ellipse cx="419.90" cy="295.80" rx="3.2" ry="5.5" fill="url(#dred)"/>
<ellipse cx="420.40" cy="301.30" rx="7.98" ry="4.94" fill="url(#halo)" transform="rotate(-40 420.40 301.30)"/>
<ellipse cx="420.40" cy="301.30" rx="4.2" ry="2.6" fill="#050505" transform="rotate(-40 420.40 301.30)" filter="url(#blur05)"/>
<rect x="414.00" y="276.10" width="30.80" height="30.80" fill="none" stroke="#b5b5b5" stroke-width="0.45" />
<text x="429.40" y="275.00" font-size="3.3" text-anchor="middle" fill="#111" stroke="#111" stroke-width="0.22" font-weight="bold" >Gated: 6.11%</text>
<text x="412.80" y="304.90" font-size="1.7" text-anchor="end" fill="#666" >10</text>
<text x="415.50" y="309.60" font-size="1.7" text-anchor="middle" fill="#666" >10</text>
<text x="412.80" y="298.10" font-size="1.7" text-anchor="end" fill="#666" >10</text>
<text x="422.30" y="309.60" font-size="1.7" text-anchor="middle" fill="#666" >10</text>
<text x="412.80" y="291.30" font-size="1.7" text-anchor="end" fill="#666" >10</text>
<text x="429.10" y="309.60" font-size="1.7" text-anchor="middle" fill="#666" >10</text>
<text x="412.80" y="284.50" font-size="1.7" text-anchor="end" fill="#666" >10</text>
<text x="435.90" y="309.60" font-size="1.7" text-anchor="middle" fill="#666" >10</text>
<text x="412.80" y="277.70" font-size="1.7" text-anchor="end" fill="#666" >10</text>
<text x="442.70" y="309.60" font-size="1.7" text-anchor="middle" fill="#666" >10</text>
<line x1="407.80" y1="286.50" x2="407.80" y2="296.50" stroke="#c8c8c8" stroke-width="0.5" />
<line x1="424.40" y1="312.90" x2="434.40" y2="312.90" stroke="#c8c8c8" stroke-width="0.5" />
<rect x="465.10" y="275.10" width="31.80" height="31.80" fill="#ffffff" />
<path d="M465.10,275.10 L495.00,275.10 L465.10,300.00 Z" fill="#f47b78"/>
<path d="M496.90,279.50 L496.90,306.90 L471.60,306.90 Z" fill="#95dc90"/>
<path d="M468.35,303.45 L495.95,277.30" stroke="url(#tail)" stroke-width="1.6" fill="none" filter="url(#blur05)"/>
<ellipse cx="469.50" cy="297.50" rx="3.2" ry="5.5" fill="url(#dred)"/>
<ellipse cx="470.00" cy="303.00" rx="5.51" ry="4.94" fill="url(#halo)" transform="rotate(-45 470.00 303.00)"/>
<ellipse cx="470.00" cy="303.00" rx="2.9" ry="2.6" fill="#050505" transform="rotate(-45 470.00 303.00)" filter="url(#blur05)"/>
<rect x="465.10" y="275.10" width="31.80" height="31.80" fill="none" stroke="#b5b5b5" stroke-width="0.45" />
<text x="481.00" y="274.00" font-size="3.3" text-anchor="middle" fill="#111" stroke="#111" stroke-width="0.22" font-weight="bold" >Gated: 7.16%</text>
<text x="463.90" y="304.90" font-size="1.7" text-anchor="end" fill="#666" >10</text>
<text x="466.60" y="309.60" font-size="1.7" text-anchor="middle" fill="#666" >10</text>
<text x="463.90" y="298.10" font-size="1.7" text-anchor="end" fill="#666" >10</text>
<text x="473.40" y="309.60" font-size="1.7" text-anchor="middle" fill="#666" >10</text>
<text x="463.90" y="291.30" font-size="1.7" text-anchor="end" fill="#666" >10</text>
<text x="480.20" y="309.60" font-size="1.7" text-anchor="middle" fill="#666" >10</text>
<text x="463.90" y="284.50" font-size="1.7" text-anchor="end" fill="#666" >10</text>
<text x="487.00" y="309.60" font-size="1.7" text-anchor="middle" fill="#666" >10</text>
<text x="463.90" y="277.70" font-size="1.7" text-anchor="end" fill="#666" >10</text>
<text x="493.80" y="309.60" font-size="1.7" text-anchor="middle" fill="#666" >10</text>
<line x1="458.90" y1="286.00" x2="458.90" y2="296.00" stroke="#c8c8c8" stroke-width="0.5" />
<line x1="476.00" y1="312.90" x2="486.00" y2="312.90" stroke="#c8c8c8" stroke-width="0.5" />
<text x="379.00" y="219.30" font-size="5.2" text-anchor="middle" fill="#111" stroke="#111" stroke-width="0.32" font-weight="bold" >control</text>
<text x="429.80" y="219.30" font-size="5.2" text-anchor="middle" fill="#111" stroke="#111" stroke-width="0.32" font-weight="bold" >SIRT6KD</text>
<text x="481.50" y="219.30" font-size="5.2" text-anchor="middle" fill="#111" stroke="#111" stroke-width="0.32" font-weight="bold" >SIRT6-WT</text>
<text x="353.10" y="242.90" font-size="3.7" text-anchor="middle" fill="#111" stroke="#111" stroke-width="0.35" font-weight="bold" transform="rotate(-90 353.1 242.9)" >NHEJ</text>
<text x="353.10" y="291.00" font-size="3.7" text-anchor="middle" fill="#111" stroke="#111" stroke-width="0.35" font-weight="bold" transform="rotate(-90 353.1 291.0)" >HR</text>
<text x="396.80" y="244.80" font-size="3.4" text-anchor="middle" fill="#111" stroke="#111" stroke-width="0.35" font-weight="bold" transform="rotate(90 396.8 244.8)" >GFP+RFP</text>
<text x="448.50" y="244.30" font-size="3.4" text-anchor="middle" fill="#111" stroke="#111" stroke-width="0.35" font-weight="bold" transform="rotate(90 448.5 244.3)" >GFP+RFP</text>
<text x="500.40" y="243.80" font-size="3.4" text-anchor="middle" fill="#111" stroke="#111" stroke-width="0.35" font-weight="bold" transform="rotate(90 500.40000000000003 243.8)" >GFP+RFP</text>
<text x="396.80" y="294.80" font-size="3.4" text-anchor="middle" fill="#111" stroke="#111" stroke-width="0.35" font-weight="bold" transform="rotate(90 396.8 294.8)" >GFP+RFP</text>
<text x="449.20" y="294.50" font-size="3.4" text-anchor="middle" fill="#111" stroke="#111" stroke-width="0.35" font-weight="bold" transform="rotate(90 449.2 294.5)" >GFP+RFP</text>
<text x="500.00" y="294.00" font-size="3.4" text-anchor="middle" fill="#111" stroke="#111" stroke-width="0.35" font-weight="bold" transform="rotate(90 500.0 294.0)" >GFP+RFP</text>
<line x1="401.20" y1="373.10" x2="401.20" y2="323.70" stroke="#8a8a8a" stroke-width="0.6" />
<line x1="400.90" y1="372.80" x2="474.20" y2="372.80" stroke="#8a8a8a" stroke-width="0.6" />
<line x1="400.00" y1="372.80" x2="401.20" y2="372.80" stroke="#8a8a8a" stroke-width="0.5" />
<text x="399.00" y="373.80" font-size="2.7" text-anchor="end" fill="#444" stroke="#444" stroke-width="0.2" font-weight="bold" >0.0</text>
<line x1="400.00" y1="362.98" x2="401.20" y2="362.98" stroke="#8a8a8a" stroke-width="0.5" />
<text x="399.00" y="363.98" font-size="2.7" text-anchor="end" fill="#444" stroke="#444" stroke-width="0.2" font-weight="bold" >0.5</text>
<line x1="400.00" y1="353.16" x2="401.20" y2="353.16" stroke="#8a8a8a" stroke-width="0.5" />
<text x="399.00" y="354.16" font-size="2.7" text-anchor="end" fill="#444" stroke="#444" stroke-width="0.2" font-weight="bold" >1.0</text>
<line x1="400.00" y1="343.34" x2="401.20" y2="343.34" stroke="#8a8a8a" stroke-width="0.5" />
<text x="399.00" y="344.34" font-size="2.7" text-anchor="end" fill="#444" stroke="#444" stroke-width="0.2" font-weight="bold" >1.5</text>
<line x1="400.00" y1="333.52" x2="401.20" y2="333.52" stroke="#8a8a8a" stroke-width="0.5" />
<text x="399.00" y="334.52" font-size="2.7" text-anchor="end" fill="#444" stroke="#444" stroke-width="0.2" font-weight="bold" >2.0</text>
<line x1="400.00" y1="323.70" x2="401.20" y2="323.70" stroke="#8a8a8a" stroke-width="0.5" />
<text x="399.00" y="324.70" font-size="2.7" text-anchor="end" fill="#444" stroke="#444" stroke-width="0.2" font-weight="bold" >2.5</text>
<text x="390.60" y="348.25" font-size="2.7" text-anchor="middle" fill="#444" stroke="#444" stroke-width="0.18"  transform="rotate(-90 390.6 348.25)" >Repair efficiency (GFP+/DsRed+)</text>
<rect x="404.50" y="324.45" width="2.70" height="2.70" fill="#d8d8d8" stroke="#888" stroke-width="0.35" />
<text x="409.40" y="326.90" font-size="3.0" text-anchor="start" fill="#333" stroke="#333" stroke-width="0.15"  >control</text>
<rect x="404.50" y="328.55" width="2.70" height="2.70" fill="#000000" />
<text x="409.40" y="331.00" font-size="3.0" text-anchor="start" fill="#333" stroke="#333" stroke-width="0.15"  >SIRT6-WT</text>
<rect x="404.50" y="333.05" width="2.70" height="2.70" fill="#707070" />
<text x="409.40" y="335.50" font-size="3.0" text-anchor="start" fill="#333" stroke="#333" stroke-width="0.15"  >SIRT6 KD</text>
<rect x="412.80" y="352.57" width="8.10" height="20.23" fill="#d8d8d8" stroke="#aaa" stroke-width="0.4" />
<rect x="420.90" y="347.46" width="8.10" height="25.34" fill="#000000" />
<rect x="429.00" y="363.57" width="8.10" height="9.23" fill="#707070" />
<rect x="445.10" y="360.03" width="8.10" height="12.77" fill="#d8d8d8" stroke="#aaa" stroke-width="0.4" />
<rect x="453.20" y="349.82" width="8.10" height="22.98" fill="#000000" />
<rect x="461.30" y="369.07" width="8.10" height="3.73" fill="#707070" />
<text x="424.00" y="377.90" font-size="3.1" text-anchor="middle" fill="#222" stroke="#222" stroke-width="0.25" font-weight="bold" >NHEJ</text>
<text x="453.50" y="377.90" font-size="3.1" text-anchor="middle" fill="#222" stroke="#222" stroke-width="0.25" font-weight="bold" >HR</text>
<path d="M416.50,351.50 L416.50,340.70 L433.00,340.70 L433.00,362.00" fill="none" stroke="#b0b0b0" stroke-width="0.55"/>
<path d="M419.50,351.00 L419.50,344.00 L427.00,344.00 L427.00,346.50" fill="none" stroke="#c0c0c0" stroke-width="0.55"/>
<text x="423.80" y="343.80" font-size="2.4" text-anchor="middle" fill="#aaa"  >ns</text>
<path d="M449.40,359.00 L449.40,341.00 L465.60,341.00 L465.60,367.50" fill="none" stroke="#b0b0b0" stroke-width="0.55"/>
<path d="M451.50,359.50 L451.50,344.50 L458.50,344.50 L458.50,348.50" fill="none" stroke="#c0c0c0" stroke-width="0.55"/>
<text x="455.50" y="346.30" font-size="2.4" text-anchor="middle" fill="#aaa"  >ns</text>
</svg>
</body></html>
